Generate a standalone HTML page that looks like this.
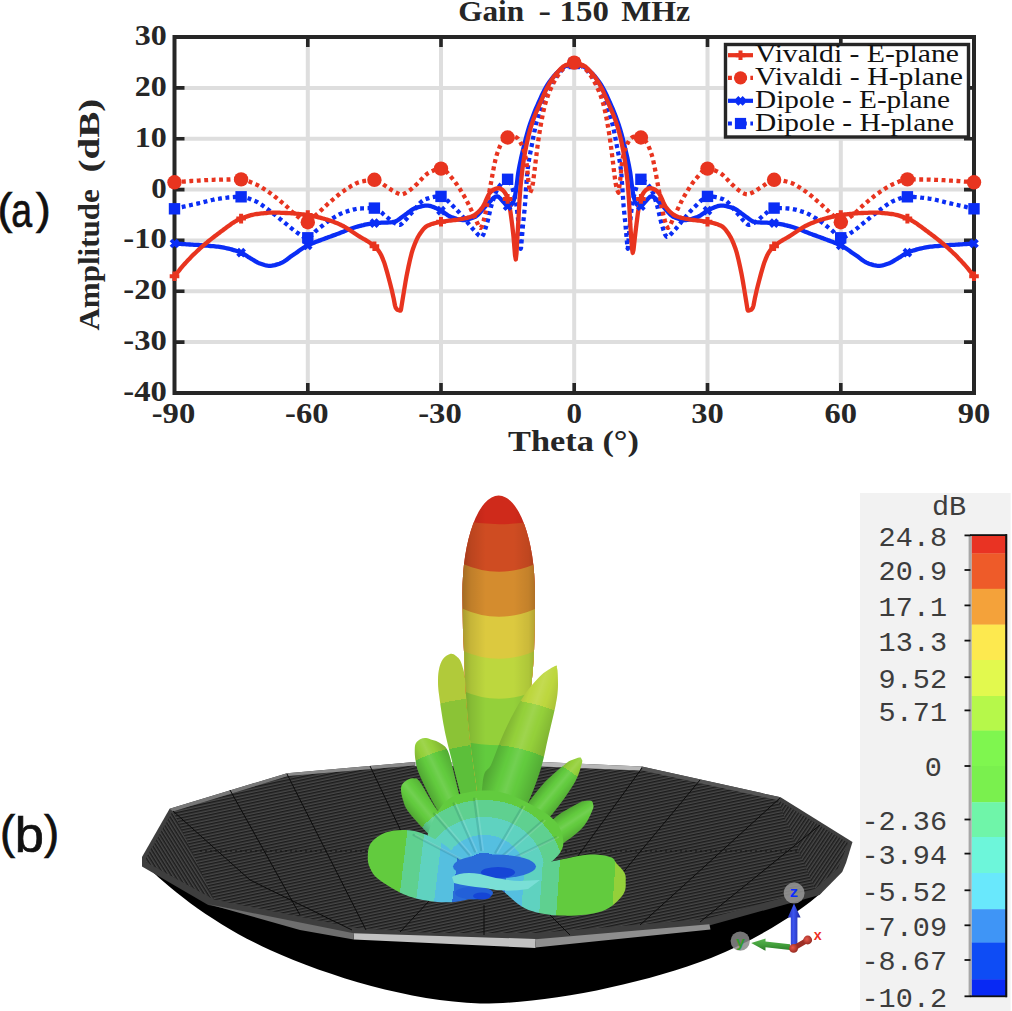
<!DOCTYPE html>
<html><head><meta charset="utf-8"><title>Gain - 150 MHz</title>
<style>
html,body{margin:0;padding:0;background:#fff;}
svg{display:block}
text{font-family:"Liberation Serif",serif;fill:#262626}
.b{font-weight:bold;font-size:29.4px}
.lg{font-size:24.5px;fill:#111}
.ss{font-family:"Liberation Sans",sans-serif;fill:#111}
.mono{font-family:"Liberation Mono",monospace;font-size:28.5px;fill:#3d3d3d}
</style></head><body>
<svg width="1012" height="1011" viewBox="0 0 1012 1011">
<rect width="1012" height="1011" fill="#fff"/>

<g id="chart">
<line x1="307.8" y1="37.0" x2="307.8" y2="393.0" stroke="#dedede" stroke-width="4.0"/>
<line x1="441.0" y1="37.0" x2="441.0" y2="393.0" stroke="#dedede" stroke-width="4.0"/>
<line x1="574.2" y1="37.0" x2="574.2" y2="393.0" stroke="#dedede" stroke-width="4.0"/>
<line x1="707.5" y1="37.0" x2="707.5" y2="393.0" stroke="#dedede" stroke-width="4.0"/>
<line x1="840.8" y1="37.0" x2="840.8" y2="393.0" stroke="#dedede" stroke-width="4.0"/>
<line x1="174.5" y1="87.9" x2="974.0" y2="87.9" stroke="#dedede" stroke-width="4.0"/>
<line x1="174.5" y1="138.7" x2="974.0" y2="138.7" stroke="#dedede" stroke-width="4.0"/>
<line x1="174.5" y1="189.6" x2="974.0" y2="189.6" stroke="#dedede" stroke-width="4.0"/>
<line x1="174.5" y1="240.4" x2="974.0" y2="240.4" stroke="#dedede" stroke-width="4.0"/>
<line x1="174.5" y1="291.3" x2="974.0" y2="291.3" stroke="#dedede" stroke-width="4.0"/>
<line x1="174.5" y1="342.1" x2="974.0" y2="342.1" stroke="#dedede" stroke-width="4.0"/>
<path d="M307.8 37.0v10M307.8 393.0v-10" stroke="#262626" stroke-width="3.6"/>
<path d="M441.0 37.0v10M441.0 393.0v-10" stroke="#262626" stroke-width="3.6"/>
<path d="M574.2 37.0v10M574.2 393.0v-10" stroke="#262626" stroke-width="3.6"/>
<path d="M707.5 37.0v10M707.5 393.0v-10" stroke="#262626" stroke-width="3.6"/>
<path d="M840.8 37.0v10M840.8 393.0v-10" stroke="#262626" stroke-width="3.6"/>
<path d="M174.5 87.9h10M974.0 87.9h-10" stroke="#262626" stroke-width="3.6"/>
<path d="M174.5 138.7h10M974.0 138.7h-10" stroke="#262626" stroke-width="3.6"/>
<path d="M174.5 189.6h10M974.0 189.6h-10" stroke="#262626" stroke-width="3.6"/>
<path d="M174.5 240.4h10M974.0 240.4h-10" stroke="#262626" stroke-width="3.6"/>
<path d="M174.5 291.3h10M974.0 291.3h-10" stroke="#262626" stroke-width="3.6"/>
<path d="M174.5 342.1h10M974.0 342.1h-10" stroke="#262626" stroke-width="3.6"/>
<rect x="174.5" y="37.0" width="799.5" height="356.0" fill="none" stroke="#262626" stroke-width="4"/>
<path d="M174.5 243.5 L176.0 243.6 L177.5 243.7 L179.0 243.8 L180.5 243.9 L182.0 244.0 L183.5 244.1 L185.0 244.2 L186.5 244.3 L188.0 244.4 L189.5 244.5 L190.0 244.5 L191.0 244.6 L192.5 244.7 L194.0 244.8 L195.5 244.8 L197.0 244.9 L198.5 245.0 L200.0 245.1 L201.5 245.2 L203.0 245.3 L204.5 245.5 L205.0 245.5 L206.0 245.6 L207.5 245.7 L209.0 245.8 L210.5 246.0 L212.0 246.1 L213.5 246.2 L215.0 246.4 L216.5 246.6 L218.0 246.7 L219.5 246.9 L220.0 247.0 L221.0 247.1 L222.5 247.4 L224.0 247.7 L225.5 248.0 L227.0 248.3 L228.5 248.6 L230.0 249.0 L231.5 249.4 L233.0 249.9 L234.5 250.3 L236.0 250.8 L237.5 251.3 L239.0 251.8 L240.5 252.4 L242.0 253.1 L243.5 253.9 L245.0 254.8 L246.5 255.8 L248.0 256.8 L249.5 257.7 L250.0 258.0 L251.0 258.6 L252.5 259.5 L254.0 260.4 L255.5 261.3 L257.0 262.2 L258.5 262.9 L260.0 263.5 L261.5 264.0 L263.0 264.5 L264.5 265.0 L266.0 265.4 L267.5 265.7 L269.0 265.9 L269.6 265.9 L270.5 265.9 L272.0 265.7 L273.5 265.4 L275.0 265.1 L276.5 264.6 L278.0 264.2 L279.5 263.7 L280.0 263.5 L281.0 263.1 L282.5 262.4 L284.0 261.5 L285.5 260.5 L287.0 259.4 L288.5 258.3 L290.0 257.1 L291.5 256.0 L293.0 255.0 L294.5 254.0 L296.0 253.0 L297.5 251.9 L299.0 250.8 L300.5 249.8 L302.0 248.8 L303.5 247.8 L305.0 246.9 L306.5 246.1 L307.0 245.8 L308.0 245.3 L309.5 244.6 L311.0 243.9 L312.5 243.3 L314.0 242.7 L315.5 242.1 L317.0 241.5 L318.5 240.9 L320.0 240.4 L321.5 239.8 L323.0 239.3 L324.5 238.7 L325.0 238.5 L326.0 238.1 L327.5 237.6 L329.0 237.0 L330.5 236.5 L332.0 235.9 L333.5 235.4 L335.0 234.9 L336.5 234.3 L338.0 233.8 L339.5 233.2 L340.0 233.0 L341.0 232.6 L342.5 232.0 L344.0 231.4 L345.5 230.7 L347.0 230.1 L348.5 229.5 L350.0 229.0 L351.5 228.5 L353.0 228.0 L354.5 227.5 L356.0 227.0 L357.5 226.6 L359.0 226.2 L360.0 225.9 L360.5 225.8 L362.0 225.4 L363.5 225.1 L365.0 224.7 L366.5 224.4 L368.0 224.1 L369.5 223.8 L371.0 223.5 L372.5 223.3 L373.8 223.2 L374.0 223.2 L375.5 223.1 L377.0 223.0 L378.5 222.9 L380.0 222.8 L381.5 222.7 L383.0 222.7 L384.5 222.6 L386.0 222.6 L387.5 222.5 L389.0 222.4 L390.5 222.3 L392.0 222.2 L393.5 222.0 L393.6 222.0 L395.0 221.7 L396.5 221.0 L398.0 220.0 L399.5 218.9 L401.0 217.8 L402.5 216.7 L403.5 216.0 L404.0 215.7 L405.5 214.6 L407.0 213.5 L408.5 212.3 L410.0 211.2 L411.5 210.1 L413.0 209.2 L414.5 208.4 L415.4 208.1 L416.0 207.9 L417.5 207.4 L419.0 207.0 L420.5 206.6 L422.0 206.2 L423.5 205.9 L425.0 205.7 L426.5 205.6 L427.2 205.6 L428.0 205.6 L429.5 205.8 L431.0 206.2 L432.5 206.7 L434.0 207.3 L435.5 207.9 L437.0 208.6 L438.5 209.4 L440.0 210.1 L440.1 210.1 L441.5 210.8 L443.0 211.8 L444.5 212.9 L446.0 214.0 L447.5 215.1 L449.0 216.0 L450.5 216.8 L451.0 217.0 L452.0 217.4 L453.5 217.9 L455.0 218.4 L456.5 218.9 L458.0 219.3 L459.5 219.7 L461.0 219.9 L462.5 220.0 L462.8 220.0 L464.0 220.0 L465.5 219.8 L467.0 219.5 L468.5 219.2 L470.0 218.7 L471.5 218.2 L473.0 217.7 L474.5 217.1 L474.7 217.0 L476.0 216.3 L477.5 215.1 L479.0 213.7 L480.5 212.0 L482.0 210.3 L483.5 208.5 L485.0 206.8 L486.5 205.3 L486.6 205.2 L488.0 203.8 L489.5 202.2 L491.0 200.5 L492.5 198.9 L494.0 197.6 L495.5 196.7 L497.0 196.3 L497.1 196.3 L498.5 196.8 L500.0 198.2 L501.5 199.9 L503.0 201.5 L504.5 203.1 L506.0 204.8 L507.5 206.1 L508.7 206.5 L509.0 206.5 L510.5 205.6 L512.0 204.0 L513.5 201.1 L515.0 196.3 L516.5 186.7 L518.0 174.6 L518.5 171.3 L519.5 165.9 L521.0 158.6 L522.5 152.1 L523.0 150.0 L524.0 145.8 L525.5 139.8 L527.0 134.1 L528.5 128.9 L529.2 126.7 L530.0 124.3 L531.5 119.9 L533.0 115.9 L534.5 112.1 L536.0 108.4 L537.5 105.0 L538.1 103.6 L539.0 101.6 L540.5 98.3 L542.0 95.0 L543.5 91.9 L545.0 89.0 L546.5 86.4 L548.0 84.0 L549.5 81.8 L551.0 79.8 L552.5 77.8 L554.0 76.0 L555.5 74.3 L557.0 72.7 L558.5 71.3 L560.0 70.0 L561.5 68.8 L563.0 67.7 L564.5 66.7 L566.0 65.9 L567.0 65.5 L567.5 65.3 L569.0 64.7 L570.5 64.2 L572.0 63.8 L573.5 63.5 L574.2 63.5 L575.0 63.5 L576.5 63.8 L578.0 64.2 L579.5 64.7 L581.0 65.3 L581.5 65.5 L582.5 65.9 L584.0 66.7 L585.5 67.7 L587.0 68.8 L588.5 70.0 L590.0 71.3 L591.5 72.7 L593.0 74.3 L594.5 76.0 L596.0 77.8 L597.5 79.8 L599.0 81.8 L600.5 84.0 L602.0 86.4 L603.5 89.0 L605.0 91.9 L606.5 95.0 L608.0 98.3 L609.5 101.6 L610.4 103.6 L611.0 105.0 L612.5 108.4 L614.0 112.1 L615.5 115.9 L617.0 119.9 L618.5 124.3 L619.3 126.7 L620.0 128.9 L621.5 134.1 L623.0 139.8 L624.5 145.8 L625.5 150.0 L626.0 152.1 L627.5 158.6 L629.0 165.9 L630.0 171.3 L630.5 174.6 L632.0 186.7 L633.5 196.3 L635.0 201.1 L636.5 204.0 L638.0 205.6 L639.5 206.5 L639.8 206.5 L641.0 206.1 L642.5 204.8 L644.0 203.1 L645.5 201.5 L647.0 199.9 L648.5 198.2 L650.0 196.8 L651.4 196.3 L651.5 196.3 L653.0 196.7 L654.5 197.6 L656.0 198.9 L657.5 200.5 L659.0 202.2 L660.5 203.8 L661.9 205.2 L662.0 205.3 L663.5 206.8 L665.0 208.5 L666.5 210.3 L668.0 212.0 L669.5 213.7 L671.0 215.1 L672.5 216.3 L673.8 217.0 L674.0 217.1 L675.5 217.7 L677.0 218.2 L678.5 218.7 L680.0 219.2 L681.5 219.5 L683.0 219.8 L684.5 220.0 L685.7 220.0 L686.0 220.0 L687.5 219.9 L689.0 219.7 L690.5 219.3 L692.0 218.9 L693.5 218.4 L695.0 217.9 L696.5 217.4 L697.5 217.0 L698.0 216.8 L699.5 216.0 L701.0 215.1 L702.5 214.0 L704.0 212.9 L705.5 211.8 L707.0 210.8 L708.4 210.1 L708.5 210.1 L710.0 209.4 L711.5 208.6 L713.0 207.9 L714.5 207.3 L716.0 206.7 L717.5 206.2 L719.0 205.8 L720.5 205.6 L721.3 205.6 L722.0 205.6 L723.5 205.7 L725.0 205.9 L726.5 206.2 L728.0 206.6 L729.5 207.0 L731.0 207.4 L732.5 207.9 L733.1 208.1 L734.0 208.4 L735.5 209.2 L737.0 210.1 L738.5 211.2 L740.0 212.3 L741.5 213.5 L743.0 214.6 L744.5 215.7 L745.0 216.0 L746.0 216.7 L747.5 217.8 L749.0 218.9 L750.5 220.0 L752.0 221.0 L753.5 221.7 L754.9 222.0 L755.0 222.0 L756.5 222.2 L758.0 222.3 L759.5 222.4 L761.0 222.5 L762.5 222.6 L764.0 222.6 L765.5 222.7 L767.0 222.7 L768.5 222.8 L770.0 222.9 L771.5 223.0 L773.0 223.1 L774.5 223.2 L774.7 223.2 L776.0 223.3 L777.5 223.5 L779.0 223.8 L780.5 224.1 L782.0 224.4 L783.5 224.7 L785.0 225.1 L786.5 225.4 L788.0 225.8 L788.5 225.9 L789.5 226.2 L791.0 226.6 L792.5 227.0 L794.0 227.5 L795.5 228.0 L797.0 228.5 L798.5 229.0 L800.0 229.5 L801.5 230.1 L803.0 230.7 L804.5 231.4 L806.0 232.0 L807.5 232.6 L808.5 233.0 L809.0 233.2 L810.5 233.8 L812.0 234.3 L813.5 234.9 L815.0 235.4 L816.5 235.9 L818.0 236.5 L819.5 237.0 L821.0 237.6 L822.5 238.1 L823.5 238.5 L824.0 238.7 L825.5 239.3 L827.0 239.8 L828.5 240.4 L830.0 240.9 L831.5 241.5 L833.0 242.1 L834.5 242.7 L836.0 243.3 L837.5 243.9 L839.0 244.6 L840.5 245.3 L841.5 245.8 L842.0 246.1 L843.5 246.9 L845.0 247.8 L846.5 248.8 L848.0 249.8 L849.5 250.8 L851.0 251.9 L852.5 253.0 L854.0 254.0 L855.5 255.0 L857.0 256.0 L858.5 257.1 L860.0 258.3 L861.5 259.4 L863.0 260.5 L864.5 261.5 L866.0 262.4 L867.5 263.1 L868.5 263.5 L869.0 263.7 L870.5 264.2 L872.0 264.6 L873.5 265.1 L875.0 265.4 L876.5 265.7 L878.0 265.9 L878.9 265.9 L879.5 265.9 L881.0 265.7 L882.5 265.4 L884.0 265.0 L885.5 264.5 L887.0 264.0 L888.5 263.5 L890.0 262.9 L891.5 262.2 L893.0 261.3 L894.5 260.4 L896.0 259.5 L897.5 258.6 L898.5 258.0 L899.0 257.7 L900.5 256.8 L902.0 255.8 L903.5 254.8 L905.0 253.9 L906.5 253.1 L908.0 252.4 L909.5 251.8 L911.0 251.3 L912.5 250.8 L914.0 250.3 L915.5 249.9 L917.0 249.4 L918.5 249.0 L920.0 248.6 L921.5 248.3 L923.0 248.0 L924.5 247.7 L926.0 247.4 L927.5 247.1 L928.5 247.0 L929.0 246.9 L930.5 246.7 L932.0 246.6 L933.5 246.4 L935.0 246.2 L936.5 246.1 L938.0 246.0 L939.5 245.8 L941.0 245.7 L942.5 245.6 L943.5 245.5 L944.0 245.5 L945.5 245.3 L947.0 245.2 L948.5 245.1 L950.0 245.0 L951.5 244.9 L953.0 244.8 L954.5 244.8 L956.0 244.7 L957.5 244.6 L958.5 244.5 L959.0 244.5 L960.5 244.4 L962.0 244.3 L963.5 244.2 L965.0 244.1 L966.5 244.0 L968.0 243.9 L969.5 243.8 L971.0 243.7 L972.5 243.6 L974.0 243.5" fill="none" stroke="#0a2df5" stroke-width="4.3" stroke-linejoin="round"/>
<path d="M174.5 208.8 L176.0 208.5 L177.5 208.1 L179.0 207.8 L180.5 207.4 L182.0 207.1 L183.5 206.7 L185.0 206.4 L186.5 206.1 L188.0 205.7 L189.5 205.4 L191.0 205.0 L192.5 204.7 L194.0 204.4 L195.5 204.0 L197.0 203.7 L198.5 203.3 L200.0 203.0 L201.5 202.7 L203.0 202.3 L204.5 201.9 L206.0 201.5 L207.5 201.1 L209.0 200.7 L210.5 200.4 L212.0 200.0 L213.5 199.7 L215.0 199.3 L216.5 199.0 L218.0 198.8 L219.5 198.6 L220.0 198.5 L221.0 198.4 L222.5 198.2 L224.0 198.0 L225.5 197.8 L227.0 197.7 L228.5 197.5 L230.0 197.4 L231.5 197.2 L233.0 197.1 L234.5 197.0 L236.0 196.9 L237.5 196.9 L239.0 196.8 L240.5 196.8 L242.0 196.9 L243.5 197.1 L245.0 197.4 L246.5 197.8 L248.0 198.3 L249.5 198.8 L251.0 199.4 L252.5 200.0 L254.0 200.6 L255.0 201.0 L255.5 201.2 L257.0 201.9 L258.5 202.8 L260.0 203.7 L261.5 204.7 L263.0 205.8 L264.5 206.9 L266.0 208.0 L267.5 209.1 L269.0 210.3 L270.0 211.0 L270.5 211.4 L272.0 212.5 L273.5 213.7 L275.0 214.8 L276.5 216.1 L278.0 217.3 L279.5 218.5 L281.0 219.8 L282.5 221.0 L284.0 222.2 L285.0 223.0 L285.5 223.4 L287.0 224.6 L288.5 225.9 L290.0 227.2 L291.5 228.4 L293.0 229.6 L294.5 230.8 L296.0 231.8 L297.0 232.5 L297.5 232.8 L299.0 233.9 L300.5 235.0 L302.0 236.0 L303.5 236.9 L305.0 237.5 L306.5 237.9 L307.0 237.9 L308.0 237.7 L309.5 237.0 L311.0 235.9 L312.5 234.4 L314.0 232.9 L315.5 231.3 L317.0 230.0 L318.5 228.8 L320.0 227.6 L321.5 226.4 L323.0 225.2 L324.5 224.0 L326.0 222.8 L327.5 221.7 L329.0 220.7 L330.0 220.0 L330.5 219.7 L332.0 218.7 L333.5 217.8 L335.0 216.9 L336.5 216.0 L338.0 215.1 L339.5 214.3 L341.0 213.6 L342.5 212.9 L344.0 212.3 L345.0 212.0 L345.5 211.8 L347.0 211.4 L348.5 210.9 L350.0 210.4 L351.5 210.0 L353.0 209.6 L354.5 209.3 L356.0 209.0 L357.5 208.7 L359.0 208.6 L360.0 208.5 L360.5 208.5 L362.0 208.4 L363.5 208.3 L365.0 208.3 L366.5 208.2 L368.0 208.2 L369.5 208.1 L371.0 208.1 L372.5 208.1 L373.8 208.1 L374.0 208.1 L375.5 208.4 L377.0 209.0 L378.5 210.0 L380.0 211.2 L381.5 212.4 L383.0 213.8 L384.5 215.1 L385.7 216.0 L386.0 216.2 L387.5 217.5 L389.0 218.8 L390.5 220.2 L392.0 221.4 L393.0 222.0 L393.5 222.3 L395.0 223.2 L396.5 224.0 L398.0 224.6 L399.5 224.9 L399.6 224.9 L401.0 224.4 L402.5 223.1 L404.0 221.5 L405.0 220.5 L405.5 220.0 L407.0 218.3 L408.5 216.5 L410.0 214.7 L411.4 213.1 L411.5 213.0 L413.0 211.3 L414.5 209.5 L416.0 207.6 L417.5 205.8 L419.0 204.1 L420.5 202.5 L422.0 201.2 L423.5 200.1 L425.0 199.3 L425.3 199.2 L426.5 198.8 L428.0 198.4 L429.5 197.9 L431.0 197.5 L432.5 197.2 L434.0 196.9 L435.5 196.6 L437.0 196.5 L438.5 196.3 L440.0 196.3 L440.1 196.3 L441.5 196.5 L443.0 197.1 L444.5 198.1 L446.0 199.3 L447.5 200.6 L449.0 202.1 L450.5 203.7 L452.0 205.2 L453.0 206.1 L453.5 206.6 L455.0 208.0 L456.5 209.6 L458.0 211.2 L459.5 212.9 L461.0 214.6 L462.5 216.3 L464.0 218.1 L464.8 219.0 L465.5 219.8 L467.0 221.7 L468.5 223.6 L470.0 225.5 L471.5 227.3 L473.0 229.1 L474.5 230.7 L474.7 230.9 L476.0 232.3 L477.5 234.0 L479.0 235.5 L480.5 236.5 L481.6 236.8 L482.0 236.7 L483.5 234.3 L485.0 230.0 L486.5 225.2 L486.6 224.9 L488.0 219.8 L489.5 213.2 L491.0 206.9 L491.5 205.2 L492.5 202.0 L494.0 197.4 L495.5 193.2 L497.0 189.8 L498.4 187.4 L498.5 187.3 L500.0 185.3 L501.5 183.5 L503.0 181.9 L504.5 180.6 L506.0 179.7 L507.5 179.3 L507.8 179.3 L509.0 180.2 L510.5 183.2 L512.0 187.0 L513.5 191.6 L515.0 197.8 L516.5 205.8 L516.7 207.0 L518.0 218.3 L519.4 233.7 L519.5 234.9 L520.7 248.8 L521.0 248.0 L522.5 230.8 L523.0 224.8 L524.0 215.2 L524.8 207.0 L525.5 197.6 L527.0 175.4 L527.4 171.3 L528.5 163.0 L530.0 154.3 L531.5 146.7 L531.9 144.6 L533.0 138.7 L534.5 131.1 L536.0 124.4 L536.3 123.2 L537.5 118.8 L539.0 113.9 L540.5 109.4 L542.0 105.2 L542.6 103.6 L543.5 101.2 L545.0 97.2 L546.5 93.5 L548.0 90.0 L549.5 86.9 L550.0 86.0 L551.0 84.3 L552.5 81.8 L554.0 79.5 L555.5 77.4 L557.0 75.4 L558.5 73.6 L560.0 72.0 L561.5 70.4 L563.0 69.0 L564.5 67.7 L566.0 66.6 L567.0 66.0 L567.5 65.8 L569.0 65.0 L570.5 64.4 L572.0 63.8 L573.5 63.5 L574.2 63.5 L575.0 63.5 L576.5 63.8 L578.0 64.4 L579.5 65.0 L581.0 65.8 L581.5 66.0 L582.5 66.6 L584.0 67.7 L585.5 69.0 L587.0 70.4 L588.5 72.0 L590.0 73.6 L591.5 75.4 L593.0 77.4 L594.5 79.5 L596.0 81.8 L597.5 84.3 L598.5 86.0 L599.0 86.9 L600.5 90.0 L602.0 93.5 L603.5 97.2 L605.0 101.2 L605.9 103.6 L606.5 105.2 L608.0 109.4 L609.5 113.9 L611.0 118.8 L612.2 123.2 L612.5 124.4 L614.0 131.1 L615.5 138.7 L616.6 144.6 L617.0 146.7 L618.5 154.3 L620.0 163.0 L621.1 171.3 L621.5 175.4 L623.0 197.6 L623.7 207.0 L624.5 215.2 L625.5 224.8 L626.0 230.8 L627.5 248.0 L627.8 248.8 L629.0 234.9 L629.1 233.7 L630.5 218.3 L631.8 207.0 L632.0 205.8 L633.5 197.8 L635.0 191.6 L636.5 187.0 L638.0 183.2 L639.5 180.2 L640.7 179.3 L641.0 179.3 L642.5 179.7 L644.0 180.6 L645.5 181.9 L647.0 183.5 L648.5 185.3 L650.0 187.3 L650.1 187.4 L651.5 189.8 L653.0 193.2 L654.5 197.4 L656.0 202.0 L657.0 205.2 L657.5 206.9 L659.0 213.2 L660.5 219.8 L661.9 224.9 L662.0 225.2 L663.5 230.0 L665.0 234.3 L666.5 236.7 L666.9 236.8 L668.0 236.5 L669.5 235.5 L671.0 234.0 L672.5 232.3 L673.8 230.9 L674.0 230.7 L675.5 229.1 L677.0 227.3 L678.5 225.5 L680.0 223.6 L681.5 221.7 L683.0 219.8 L683.7 219.0 L684.5 218.1 L686.0 216.3 L687.5 214.6 L689.0 212.9 L690.5 211.2 L692.0 209.6 L693.5 208.0 L695.0 206.6 L695.5 206.1 L696.5 205.2 L698.0 203.7 L699.5 202.1 L701.0 200.6 L702.5 199.3 L704.0 198.1 L705.5 197.1 L707.0 196.5 L708.4 196.3 L708.5 196.3 L710.0 196.3 L711.5 196.5 L713.0 196.6 L714.5 196.9 L716.0 197.2 L717.5 197.5 L719.0 197.9 L720.5 198.4 L722.0 198.8 L723.2 199.2 L723.5 199.3 L725.0 200.1 L726.5 201.2 L728.0 202.5 L729.5 204.1 L731.0 205.8 L732.5 207.6 L734.0 209.5 L735.5 211.3 L737.0 213.0 L737.1 213.1 L738.5 214.7 L740.0 216.5 L741.5 218.3 L743.0 220.0 L743.5 220.5 L744.5 221.5 L746.0 223.1 L747.5 224.4 L748.9 224.9 L749.0 224.9 L750.5 224.6 L752.0 224.0 L753.5 223.2 L755.0 222.3 L755.5 222.0 L756.5 221.4 L758.0 220.2 L759.5 218.8 L761.0 217.5 L762.5 216.2 L762.8 216.0 L764.0 215.1 L765.5 213.8 L767.0 212.4 L768.5 211.2 L770.0 210.0 L771.5 209.0 L773.0 208.4 L774.5 208.1 L774.7 208.1 L776.0 208.1 L777.5 208.1 L779.0 208.1 L780.5 208.2 L782.0 208.2 L783.5 208.3 L785.0 208.3 L786.5 208.4 L788.0 208.5 L788.5 208.5 L789.5 208.6 L791.0 208.7 L792.5 209.0 L794.0 209.3 L795.5 209.6 L797.0 210.0 L798.5 210.4 L800.0 210.9 L801.5 211.4 L803.0 211.8 L803.5 212.0 L804.5 212.3 L806.0 212.9 L807.5 213.6 L809.0 214.3 L810.5 215.1 L812.0 216.0 L813.5 216.9 L815.0 217.8 L816.5 218.7 L818.0 219.7 L818.5 220.0 L819.5 220.7 L821.0 221.7 L822.5 222.8 L824.0 224.0 L825.5 225.2 L827.0 226.4 L828.5 227.6 L830.0 228.8 L831.5 230.0 L833.0 231.3 L834.5 232.9 L836.0 234.4 L837.5 235.9 L839.0 237.0 L840.5 237.7 L841.5 237.9 L842.0 237.9 L843.5 237.5 L845.0 236.9 L846.5 236.0 L848.0 235.0 L849.5 233.9 L851.0 232.8 L851.5 232.5 L852.5 231.8 L854.0 230.8 L855.5 229.6 L857.0 228.4 L858.5 227.2 L860.0 225.9 L861.5 224.6 L863.0 223.4 L863.5 223.0 L864.5 222.2 L866.0 221.0 L867.5 219.8 L869.0 218.5 L870.5 217.3 L872.0 216.1 L873.5 214.8 L875.0 213.7 L876.5 212.5 L878.0 211.4 L878.5 211.0 L879.5 210.3 L881.0 209.1 L882.5 208.0 L884.0 206.9 L885.5 205.8 L887.0 204.7 L888.5 203.7 L890.0 202.8 L891.5 201.9 L893.0 201.2 L893.5 201.0 L894.5 200.6 L896.0 200.0 L897.5 199.4 L899.0 198.8 L900.5 198.3 L902.0 197.8 L903.5 197.4 L905.0 197.1 L906.5 196.9 L908.0 196.8 L909.5 196.8 L911.0 196.9 L912.5 196.9 L914.0 197.0 L915.5 197.1 L917.0 197.2 L918.5 197.4 L920.0 197.5 L921.5 197.7 L923.0 197.8 L924.5 198.0 L926.0 198.2 L927.5 198.4 L928.5 198.5 L929.0 198.6 L930.5 198.8 L932.0 199.0 L933.5 199.3 L935.0 199.7 L936.5 200.0 L938.0 200.4 L939.5 200.7 L941.0 201.1 L942.5 201.5 L944.0 201.9 L945.5 202.3 L947.0 202.7 L948.5 203.0 L950.0 203.3 L951.5 203.7 L953.0 204.0 L954.5 204.4 L956.0 204.7 L957.5 205.0 L959.0 205.4 L960.5 205.7 L962.0 206.1 L963.5 206.4 L965.0 206.7 L966.5 207.1 L968.0 207.4 L969.5 207.8 L971.0 208.1 L972.5 208.5 L974.0 208.8" fill="none" stroke="#0a2df5" stroke-width="4.3" stroke-linejoin="round" stroke-dasharray="3.9 3.55"/>
<path d="M174.5 276.3 L176.0 274.4 L177.5 272.4 L179.0 270.6 L180.5 268.7 L182.0 266.9 L183.5 265.2 L185.0 263.5 L186.5 261.9 L188.0 260.2 L189.5 258.7 L191.0 257.1 L192.5 255.6 L194.0 254.1 L195.5 252.7 L197.0 251.3 L198.5 249.9 L200.0 248.5 L201.5 247.2 L203.0 245.8 L204.5 244.5 L206.0 243.3 L207.5 242.0 L209.0 240.8 L210.5 239.6 L212.0 238.4 L213.5 237.2 L215.0 236.0 L216.5 234.9 L218.0 233.8 L219.5 232.7 L220.0 232.3 L221.0 231.6 L222.5 230.5 L224.0 229.3 L225.5 228.2 L227.0 227.1 L228.5 226.0 L230.0 224.9 L231.5 223.8 L233.0 222.8 L234.5 221.9 L236.0 221.0 L237.5 220.2 L239.0 219.4 L240.5 218.8 L242.0 218.2 L243.5 217.6 L245.0 217.1 L246.5 216.6 L248.0 216.1 L249.5 215.6 L251.0 215.2 L252.5 214.8 L254.0 214.5 L255.5 214.2 L257.0 214.0 L258.5 213.8 L260.0 213.6 L261.5 213.4 L263.0 213.3 L264.5 213.1 L266.0 213.0 L267.5 212.8 L269.0 212.7 L270.5 212.7 L272.0 212.6 L273.5 212.6 L273.7 212.6 L275.0 212.6 L276.5 212.6 L278.0 212.7 L279.5 212.7 L281.0 212.8 L282.5 212.8 L284.0 212.9 L285.5 213.0 L287.0 213.0 L288.5 213.1 L290.0 213.2 L291.5 213.3 L293.0 213.4 L294.5 213.5 L296.0 213.7 L297.5 213.8 L299.0 214.0 L300.5 214.1 L302.0 214.3 L303.5 214.5 L305.0 214.7 L306.5 214.9 L307.0 215.0 L308.0 215.1 L309.5 215.4 L311.0 215.7 L312.5 215.9 L314.0 216.3 L315.5 216.6 L317.0 216.9 L318.5 217.3 L320.0 217.7 L321.5 218.1 L323.0 218.5 L324.5 218.9 L325.0 219.0 L326.0 219.3 L327.5 219.7 L329.0 220.2 L330.5 220.7 L332.0 221.2 L333.5 221.8 L335.0 222.4 L336.5 223.0 L338.0 223.6 L339.5 224.3 L340.0 224.5 L341.0 225.0 L342.5 225.7 L344.0 226.5 L345.5 227.4 L347.0 228.3 L348.5 229.2 L350.0 230.2 L351.5 231.2 L353.0 232.2 L354.5 233.2 L356.0 234.2 L357.5 235.2 L359.0 236.2 L360.0 236.8 L360.5 237.1 L362.0 238.0 L363.5 238.9 L365.0 239.7 L366.5 240.6 L368.0 241.5 L369.5 242.5 L371.0 243.5 L372.5 244.6 L373.8 245.7 L374.0 245.9 L375.5 247.3 L377.0 248.9 L378.5 250.7 L379.8 252.6 L380.0 252.9 L381.5 255.8 L383.0 259.4 L384.0 262.0 L384.5 263.4 L386.0 268.3 L387.5 273.7 L387.7 274.4 L389.0 279.2 L390.5 285.0 L391.0 287.0 L392.0 291.1 L393.5 297.7 L393.6 298.1 L395.0 305.5 L395.6 307.5 L396.5 308.9 L397.5 309.8 L398.0 310.0 L399.5 310.5 L400.5 310.6 L401.0 309.5 L402.5 300.1 L404.0 291.0 L404.5 288.0 L405.5 282.0 L406.5 276.4 L407.0 273.8 L408.5 266.5 L409.5 262.0 L410.0 259.8 L411.5 253.7 L412.4 250.6 L413.0 248.8 L414.5 244.7 L416.0 241.1 L417.5 237.9 L419.0 235.3 L419.3 234.8 L420.5 233.0 L422.0 230.9 L423.5 229.0 L425.0 227.5 L426.5 226.3 L427.2 225.9 L428.0 225.5 L429.5 224.9 L431.0 224.3 L432.5 223.8 L434.0 223.4 L435.5 223.0 L437.0 222.6 L438.5 222.3 L440.0 222.0 L440.1 222.0 L441.5 221.7 L443.0 221.5 L444.5 221.3 L446.0 221.1 L447.5 220.9 L449.0 220.7 L450.5 220.6 L452.0 220.4 L453.5 220.2 L455.0 220.0 L456.5 219.8 L458.0 219.6 L458.9 219.4 L459.5 219.3 L461.0 219.0 L462.5 218.8 L464.0 218.5 L465.5 218.1 L467.0 217.8 L468.5 217.4 L470.0 217.0 L471.5 216.5 L472.7 216.0 L473.0 215.9 L474.5 215.1 L476.0 214.0 L477.5 212.7 L479.0 211.3 L480.5 209.6 L482.0 207.8 L482.6 207.1 L483.5 205.7 L485.0 202.7 L486.5 199.2 L488.0 195.9 L489.5 193.3 L490.0 192.7 L491.0 191.7 L492.5 190.4 L494.0 189.4 L495.0 189.0 L495.5 188.8 L497.0 188.4 L498.5 188.2 L498.9 188.2 L500.0 188.4 L501.5 189.3 L502.5 190.0 L503.0 190.4 L504.5 192.1 L506.0 194.5 L507.5 198.4 L509.0 204.3 L509.6 207.0 L510.5 212.1 L512.0 223.5 L513.2 233.7 L513.5 236.7 L515.0 255.1 L515.8 259.5 L516.5 253.4 L517.6 233.7 L518.0 227.2 L519.5 200.5 L520.3 189.1 L521.0 181.6 L522.5 168.4 L523.9 158.8 L524.0 158.2 L525.5 149.7 L527.0 142.3 L528.5 135.8 L530.0 130.1 L531.0 126.7 L531.5 125.1 L533.0 120.6 L534.5 116.5 L536.0 112.8 L537.5 109.3 L539.0 105.9 L540.5 102.5 L540.8 101.8 L542.0 99.0 L543.5 95.5 L545.0 92.1 L546.5 88.9 L548.0 86.0 L549.5 83.4 L551.0 80.9 L552.5 78.6 L554.0 76.5 L555.5 74.6 L556.0 74.0 L557.0 72.8 L558.5 71.1 L560.0 69.5 L561.5 68.0 L563.0 66.7 L564.5 65.8 L565.0 65.5 L566.0 65.0 L567.5 64.4 L569.0 63.7 L570.5 63.2 L572.0 62.8 L573.5 62.6 L574.2 62.6 L575.0 62.6 L576.5 62.8 L578.0 63.2 L579.5 63.7 L581.0 64.4 L582.5 65.0 L583.5 65.5 L584.0 65.8 L585.5 66.7 L587.0 68.0 L588.5 69.5 L590.0 71.1 L591.5 72.8 L592.5 74.0 L593.0 74.6 L594.5 76.5 L596.0 78.6 L597.5 80.9 L599.0 83.4 L600.5 86.0 L602.0 88.9 L603.5 92.1 L605.0 95.5 L606.5 99.0 L607.7 101.8 L608.0 102.5 L609.5 105.9 L611.0 109.3 L612.5 112.8 L614.0 116.5 L615.5 120.6 L617.0 125.1 L617.5 126.7 L618.5 130.1 L620.0 135.8 L621.5 142.3 L623.0 149.7 L624.5 158.2 L624.6 158.8 L626.0 168.4 L627.5 181.6 L628.2 189.1 L629.0 200.9 L630.5 227.9 L630.9 233.7 L632.0 248.6 L632.7 253.0 L633.5 249.9 L635.0 236.2 L635.3 233.7 L636.5 224.1 L638.0 212.3 L638.9 207.0 L639.5 204.3 L641.0 198.4 L642.5 194.5 L644.0 192.1 L645.5 190.4 L646.0 190.0 L647.0 189.3 L648.5 188.4 L649.6 188.2 L650.0 188.2 L651.5 188.4 L653.0 188.8 L653.5 189.0 L654.5 189.4 L656.0 190.4 L657.5 191.7 L658.5 192.7 L659.0 193.3 L660.5 195.9 L662.0 199.2 L663.5 202.7 L665.0 205.7 L665.9 207.1 L666.5 207.8 L668.0 209.6 L669.5 211.3 L671.0 212.7 L672.5 214.0 L674.0 215.1 L675.5 215.9 L675.8 216.0 L677.0 216.5 L678.5 217.0 L680.0 217.4 L681.5 217.8 L683.0 218.1 L684.5 218.5 L686.0 218.8 L687.5 219.0 L689.0 219.3 L689.6 219.4 L690.5 219.6 L692.0 219.8 L693.5 220.0 L695.0 220.2 L696.5 220.4 L698.0 220.6 L699.5 220.7 L701.0 220.9 L702.5 221.1 L704.0 221.3 L705.5 221.5 L707.0 221.7 L708.4 222.0 L708.5 222.0 L710.0 222.3 L711.5 222.6 L713.0 223.0 L714.5 223.4 L716.0 223.8 L717.5 224.3 L719.0 224.9 L720.5 225.5 L721.3 225.9 L722.0 226.3 L723.5 227.5 L725.0 229.0 L726.5 230.9 L728.0 233.0 L729.2 234.8 L729.5 235.3 L731.0 237.9 L732.5 241.1 L734.0 244.7 L735.5 248.8 L736.1 250.6 L737.0 253.7 L738.5 259.8 L739.0 262.0 L740.0 266.5 L741.5 273.8 L742.0 276.4 L743.0 282.0 L744.0 288.0 L744.5 291.0 L746.0 300.1 L747.5 309.5 L748.0 310.6 L749.0 310.5 L750.5 310.0 L751.0 309.8 L752.0 308.9 L752.9 307.5 L753.5 305.5 L754.9 298.1 L755.0 297.7 L756.5 291.1 L757.5 287.0 L758.0 285.0 L759.5 279.2 L760.8 274.4 L761.0 273.7 L762.5 268.3 L764.0 263.4 L764.5 262.0 L765.5 259.4 L767.0 255.8 L768.5 252.9 L768.7 252.6 L770.0 250.7 L771.5 248.9 L773.0 247.3 L774.5 245.9 L774.7 245.7 L776.0 244.6 L777.5 243.5 L779.0 242.5 L780.5 241.5 L782.0 240.6 L783.5 239.7 L785.0 238.9 L786.5 238.0 L788.0 237.1 L788.5 236.8 L789.5 236.2 L791.0 235.2 L792.5 234.2 L794.0 233.2 L795.5 232.2 L797.0 231.2 L798.5 230.2 L800.0 229.2 L801.5 228.3 L803.0 227.4 L804.5 226.5 L806.0 225.7 L807.5 225.0 L808.5 224.5 L809.0 224.3 L810.5 223.6 L812.0 223.0 L813.5 222.4 L815.0 221.8 L816.5 221.2 L818.0 220.7 L819.5 220.2 L821.0 219.7 L822.5 219.3 L823.5 219.0 L824.0 218.9 L825.5 218.5 L827.0 218.1 L828.5 217.7 L830.0 217.3 L831.5 216.9 L833.0 216.6 L834.5 216.3 L836.0 215.9 L837.5 215.7 L839.0 215.4 L840.5 215.1 L841.5 215.0 L842.0 214.9 L843.5 214.7 L845.0 214.5 L846.5 214.3 L848.0 214.1 L849.5 214.0 L851.0 213.8 L852.5 213.7 L854.0 213.5 L855.5 213.4 L857.0 213.3 L858.5 213.2 L860.0 213.1 L861.5 213.0 L863.0 213.0 L864.5 212.9 L866.0 212.8 L867.5 212.8 L869.0 212.7 L870.5 212.7 L872.0 212.6 L873.5 212.6 L874.8 212.6 L875.0 212.6 L876.5 212.6 L878.0 212.7 L879.5 212.7 L881.0 212.8 L882.5 213.0 L884.0 213.1 L885.5 213.3 L887.0 213.4 L888.5 213.6 L890.0 213.8 L891.5 214.0 L893.0 214.2 L894.5 214.5 L896.0 214.8 L897.5 215.2 L899.0 215.6 L900.5 216.1 L902.0 216.6 L903.5 217.1 L905.0 217.6 L906.5 218.2 L908.0 218.8 L909.5 219.4 L911.0 220.2 L912.5 221.0 L914.0 221.9 L915.5 222.8 L917.0 223.8 L918.5 224.9 L920.0 226.0 L921.5 227.1 L923.0 228.2 L924.5 229.3 L926.0 230.5 L927.5 231.6 L928.5 232.3 L929.0 232.7 L930.5 233.8 L932.0 234.9 L933.5 236.0 L935.0 237.2 L936.5 238.4 L938.0 239.6 L939.5 240.8 L941.0 242.0 L942.5 243.3 L944.0 244.5 L945.5 245.8 L947.0 247.2 L948.5 248.5 L950.0 249.9 L951.5 251.3 L953.0 252.7 L954.5 254.1 L956.0 255.6 L957.5 257.1 L959.0 258.7 L960.5 260.2 L962.0 261.9 L963.5 263.5 L965.0 265.2 L966.5 266.9 L968.0 268.7 L969.5 270.6 L971.0 272.4 L972.5 274.4 L974.0 276.3" fill="none" stroke="#e8341f" stroke-width="4.3" stroke-linejoin="round"/>
<path d="M174.5 182.3 L176.0 182.2 L177.5 182.0 L179.0 181.9 L180.5 181.8 L182.0 181.7 L183.5 181.6 L185.0 181.5 L186.5 181.4 L188.0 181.2 L189.5 181.1 L191.0 181.0 L192.5 180.9 L194.0 180.9 L195.5 180.8 L197.0 180.7 L198.5 180.6 L200.0 180.5 L201.5 180.4 L203.0 180.3 L204.5 180.2 L206.0 180.2 L207.5 180.1 L209.0 180.0 L210.5 179.9 L212.0 179.9 L213.5 179.8 L215.0 179.7 L216.5 179.7 L218.0 179.6 L219.5 179.6 L220.0 179.6 L221.0 179.6 L222.5 179.6 L224.0 179.5 L225.5 179.5 L227.0 179.5 L228.5 179.5 L230.0 179.5 L231.5 179.4 L233.0 179.4 L234.5 179.4 L236.0 179.4 L237.5 179.4 L239.0 179.4 L240.5 179.4 L242.0 179.5 L243.5 179.7 L245.0 180.1 L246.5 180.5 L248.0 181.0 L249.5 181.6 L251.0 182.3 L252.5 182.9 L254.0 183.6 L255.0 184.0 L255.5 184.2 L257.0 184.9 L258.5 185.7 L260.0 186.5 L261.5 187.4 L263.0 188.3 L264.5 189.3 L266.0 190.3 L267.5 191.3 L269.0 192.3 L270.0 193.0 L270.5 193.3 L272.0 194.4 L273.5 195.5 L275.0 196.7 L276.5 197.9 L278.0 199.1 L279.5 200.3 L281.0 201.6 L282.5 202.9 L284.0 204.1 L285.0 205.0 L285.5 205.4 L287.0 206.8 L288.5 208.2 L290.0 209.7 L291.5 211.2 L293.0 212.6 L294.5 214.0 L296.0 215.2 L297.0 216.0 L297.5 216.4 L299.0 217.6 L300.5 218.9 L302.0 220.1 L303.5 221.1 L305.0 221.9 L306.5 222.3 L307.0 222.3 L308.0 222.1 L309.5 221.4 L311.0 220.2 L312.5 218.7 L314.0 217.1 L315.5 215.4 L317.0 214.0 L318.5 212.7 L320.0 211.3 L321.5 209.9 L323.0 208.5 L324.5 207.0 L326.0 205.6 L327.5 204.2 L329.0 202.9 L330.0 202.0 L330.5 201.6 L332.0 200.3 L333.5 199.0 L335.0 197.7 L336.5 196.4 L338.0 195.2 L339.5 194.0 L341.0 192.8 L342.5 191.7 L344.0 190.7 L345.0 190.0 L345.5 189.7 L347.0 188.7 L348.5 187.7 L350.0 186.8 L351.5 185.8 L353.0 185.0 L354.5 184.2 L356.0 183.4 L357.5 182.8 L359.0 182.3 L360.0 182.0 L360.5 181.9 L362.0 181.5 L363.5 181.2 L365.0 180.8 L366.5 180.6 L368.0 180.3 L369.5 180.1 L371.0 179.9 L372.5 179.8 L373.8 179.8 L374.0 179.8 L375.5 180.0 L377.0 180.5 L378.5 181.2 L380.0 182.1 L381.5 183.1 L383.0 184.2 L384.5 185.3 L386.0 186.3 L387.5 187.3 L387.7 187.4 L389.0 188.2 L390.5 189.2 L392.0 190.3 L393.5 191.2 L395.0 192.0 L396.5 192.7 L398.0 193.4 L399.5 194.0 L401.0 194.3 L401.5 194.3 L402.5 194.2 L404.0 193.7 L405.5 193.0 L407.0 192.1 L408.0 191.5 L408.5 191.2 L410.0 190.1 L411.5 188.9 L413.0 187.6 L414.5 186.2 L415.4 185.4 L416.0 184.9 L417.5 183.4 L419.0 181.8 L420.5 180.2 L422.0 178.6 L423.5 177.0 L425.0 175.6 L426.5 174.3 L428.0 173.2 L429.2 172.5 L429.5 172.4 L431.0 171.6 L432.5 170.9 L434.0 170.3 L435.5 169.7 L437.0 169.2 L438.5 168.9 L440.0 168.6 L441.1 168.6 L441.5 168.6 L443.0 169.0 L444.5 170.0 L446.0 171.2 L447.5 172.8 L449.0 174.6 L450.5 176.4 L452.0 178.2 L453.0 179.4 L453.5 180.0 L455.0 181.8 L456.5 183.9 L458.0 186.1 L459.5 188.4 L461.0 190.8 L462.5 193.3 L464.0 195.8 L464.8 197.2 L465.5 198.4 L467.0 201.3 L468.5 204.3 L470.0 207.4 L471.5 210.5 L473.0 213.6 L474.5 216.6 L474.7 217.0 L476.0 219.9 L477.5 223.5 L479.0 226.5 L480.5 227.9 L480.6 227.9 L482.0 226.0 L483.5 221.1 L484.6 217.0 L485.0 215.5 L486.5 208.3 L488.0 199.7 L489.5 190.9 L490.5 185.4 L491.0 182.8 L492.5 174.5 L494.0 166.4 L495.5 159.4 L496.5 155.7 L497.0 154.1 L498.5 149.8 L500.0 146.1 L501.5 143.2 L502.4 141.9 L503.0 141.2 L504.5 139.6 L506.0 138.4 L507.5 137.5 L507.8 137.4 L509.0 136.9 L510.5 136.4 L512.0 136.2 L513.5 136.4 L515.0 136.8 L516.5 137.5 L516.7 137.6 L518.0 138.6 L519.5 140.7 L521.0 143.4 L522.5 146.8 L523.0 148.0 L524.0 150.9 L525.5 156.9 L526.5 162.4 L527.0 166.5 L528.3 180.2 L528.5 181.9 L530.0 192.6 L530.1 192.7 L531.5 189.6 L532.8 183.8 L533.0 182.8 L534.5 171.0 L535.5 162.4 L536.0 158.4 L537.5 146.4 L539.0 135.7 L540.5 126.6 L542.0 118.3 L543.5 110.9 L545.0 104.7 L545.3 103.6 L546.5 99.7 L548.0 95.3 L549.5 91.5 L551.0 88.1 L552.0 86.0 L552.5 85.0 L554.0 82.0 L555.5 79.3 L557.0 76.8 L558.5 74.5 L560.0 72.5 L561.5 70.7 L563.0 68.9 L564.5 67.4 L566.0 66.2 L567.0 65.5 L567.5 65.2 L569.0 64.4 L570.5 63.6 L572.0 63.0 L573.5 62.6 L574.2 62.6 L575.0 62.6 L576.5 63.0 L578.0 63.6 L579.5 64.4 L581.0 65.2 L581.5 65.5 L582.5 66.2 L584.0 67.4 L585.5 68.9 L587.0 70.7 L588.5 72.5 L590.0 74.5 L591.5 76.8 L593.0 79.3 L594.5 82.0 L596.0 85.0 L596.5 86.0 L597.5 88.1 L599.0 91.5 L600.5 95.3 L602.0 99.7 L603.2 103.6 L603.5 104.7 L605.0 110.9 L606.5 118.3 L608.0 126.6 L609.5 135.7 L611.0 146.4 L612.5 158.4 L613.0 162.4 L614.0 171.0 L615.5 182.8 L615.7 183.8 L617.0 189.6 L618.4 192.7 L618.5 192.6 L620.0 181.9 L620.2 180.2 L621.5 166.5 L622.0 162.4 L623.0 156.9 L624.5 150.9 L625.5 148.0 L626.0 146.8 L627.5 143.4 L629.0 140.7 L630.5 138.6 L631.8 137.6 L632.0 137.5 L633.5 136.8 L635.0 136.4 L636.5 136.2 L638.0 136.4 L639.5 136.9 L640.7 137.4 L641.0 137.5 L642.5 138.4 L644.0 139.6 L645.5 141.2 L646.1 141.9 L647.0 143.2 L648.5 146.1 L650.0 149.8 L651.5 154.1 L652.0 155.7 L653.0 159.4 L654.5 166.4 L656.0 174.5 L657.5 182.8 L658.0 185.4 L659.0 190.9 L660.5 199.7 L662.0 208.3 L663.5 215.5 L663.9 217.0 L665.0 221.1 L666.5 226.0 L667.9 227.9 L668.0 227.9 L669.5 226.5 L671.0 223.5 L672.5 219.9 L673.8 217.0 L674.0 216.6 L675.5 213.6 L677.0 210.5 L678.5 207.4 L680.0 204.3 L681.5 201.3 L683.0 198.4 L683.7 197.2 L684.5 195.8 L686.0 193.3 L687.5 190.8 L689.0 188.4 L690.5 186.1 L692.0 183.9 L693.5 181.8 L695.0 180.0 L695.5 179.4 L696.5 178.2 L698.0 176.4 L699.5 174.6 L701.0 172.8 L702.5 171.2 L704.0 170.0 L705.5 169.0 L707.0 168.6 L707.4 168.6 L708.5 168.6 L710.0 168.9 L711.5 169.2 L713.0 169.7 L714.5 170.3 L716.0 170.9 L717.5 171.6 L719.0 172.4 L719.3 172.5 L720.5 173.2 L722.0 174.3 L723.5 175.6 L725.0 177.0 L726.5 178.6 L728.0 180.2 L729.5 181.8 L731.0 183.4 L732.5 184.9 L733.1 185.4 L734.0 186.2 L735.5 187.6 L737.0 188.9 L738.5 190.1 L740.0 191.2 L740.5 191.5 L741.5 192.1 L743.0 193.0 L744.5 193.7 L746.0 194.2 L747.0 194.3 L747.5 194.3 L749.0 194.0 L750.5 193.4 L752.0 192.7 L753.5 192.0 L755.0 191.2 L756.5 190.3 L758.0 189.2 L759.5 188.2 L760.8 187.4 L761.0 187.3 L762.5 186.3 L764.0 185.3 L765.5 184.2 L767.0 183.1 L768.5 182.1 L770.0 181.2 L771.5 180.5 L773.0 180.0 L774.5 179.8 L774.7 179.8 L776.0 179.8 L777.5 179.9 L779.0 180.1 L780.5 180.3 L782.0 180.6 L783.5 180.8 L785.0 181.2 L786.5 181.5 L788.0 181.9 L788.5 182.0 L789.5 182.3 L791.0 182.8 L792.5 183.4 L794.0 184.2 L795.5 185.0 L797.0 185.8 L798.5 186.8 L800.0 187.7 L801.5 188.7 L803.0 189.7 L803.5 190.0 L804.5 190.7 L806.0 191.7 L807.5 192.8 L809.0 194.0 L810.5 195.2 L812.0 196.4 L813.5 197.7 L815.0 199.0 L816.5 200.3 L818.0 201.6 L818.5 202.0 L819.5 202.9 L821.0 204.2 L822.5 205.6 L824.0 207.0 L825.5 208.5 L827.0 209.9 L828.5 211.3 L830.0 212.7 L831.5 214.0 L833.0 215.4 L834.5 217.1 L836.0 218.7 L837.5 220.2 L839.0 221.4 L840.5 222.1 L841.5 222.3 L842.0 222.3 L843.5 221.9 L845.0 221.1 L846.5 220.1 L848.0 218.9 L849.5 217.6 L851.0 216.4 L851.5 216.0 L852.5 215.2 L854.0 214.0 L855.5 212.6 L857.0 211.2 L858.5 209.7 L860.0 208.2 L861.5 206.8 L863.0 205.4 L863.5 205.0 L864.5 204.1 L866.0 202.9 L867.5 201.6 L869.0 200.3 L870.5 199.1 L872.0 197.9 L873.5 196.7 L875.0 195.5 L876.5 194.4 L878.0 193.3 L878.5 193.0 L879.5 192.3 L881.0 191.3 L882.5 190.3 L884.0 189.3 L885.5 188.3 L887.0 187.4 L888.5 186.5 L890.0 185.7 L891.5 184.9 L893.0 184.2 L893.5 184.0 L894.5 183.6 L896.0 182.9 L897.5 182.3 L899.0 181.6 L900.5 181.0 L902.0 180.5 L903.5 180.1 L905.0 179.7 L906.5 179.5 L908.0 179.4 L909.5 179.4 L911.0 179.4 L912.5 179.4 L914.0 179.4 L915.5 179.4 L917.0 179.4 L918.5 179.5 L920.0 179.5 L921.5 179.5 L923.0 179.5 L924.5 179.5 L926.0 179.6 L927.5 179.6 L928.5 179.6 L929.0 179.6 L930.5 179.6 L932.0 179.7 L933.5 179.7 L935.0 179.8 L936.5 179.9 L938.0 179.9 L939.5 180.0 L941.0 180.1 L942.5 180.2 L944.0 180.2 L945.5 180.3 L947.0 180.4 L948.5 180.5 L950.0 180.6 L951.5 180.7 L953.0 180.8 L954.5 180.9 L956.0 180.9 L957.5 181.0 L959.0 181.1 L960.5 181.2 L962.0 181.4 L963.5 181.5 L965.0 181.6 L966.5 181.7 L968.0 181.8 L969.5 181.9 L971.0 182.0 L972.5 182.2 L974.0 182.3" fill="none" stroke="#e8341f" stroke-width="4.3" stroke-linejoin="round" stroke-dasharray="3.9 3.55"/>
<path d="M171.0 240.0L178.0 247.0M171.0 247.0L178.0 240.0" stroke="#0a2df5" stroke-width="3.8" fill="none"/>
<path d="M237.6 249.2L244.6 256.2M237.6 256.2L244.6 249.2" stroke="#0a2df5" stroke-width="3.8" fill="none"/>
<path d="M304.2 241.9L311.2 248.9M304.2 248.9L311.2 241.9" stroke="#0a2df5" stroke-width="3.8" fill="none"/>
<path d="M370.9 219.6L377.9 226.6M370.9 226.6L377.9 219.6" stroke="#0a2df5" stroke-width="3.8" fill="none"/>
<path d="M437.5 207.1L444.5 214.1M437.5 214.1L444.5 207.1" stroke="#0a2df5" stroke-width="3.8" fill="none"/>
<path d="M504.1 202.7L511.1 209.7M504.1 209.7L511.1 202.7" stroke="#0a2df5" stroke-width="3.8" fill="none"/>
<path d="M570.8 60.0L577.8 67.0M570.8 67.0L577.8 60.0" stroke="#0a2df5" stroke-width="3.8" fill="none"/>
<path d="M637.4 202.7L644.4 209.7M637.4 209.7L644.4 202.7" stroke="#0a2df5" stroke-width="3.8" fill="none"/>
<path d="M704.0 207.1L711.0 214.1M704.0 214.1L711.0 207.1" stroke="#0a2df5" stroke-width="3.8" fill="none"/>
<path d="M770.6 219.6L777.6 226.6M770.6 226.6L777.6 219.6" stroke="#0a2df5" stroke-width="3.8" fill="none"/>
<path d="M837.2 241.9L844.2 248.9M837.2 248.9L844.2 241.9" stroke="#0a2df5" stroke-width="3.8" fill="none"/>
<path d="M903.9 249.2L910.9 256.2M903.9 256.2L910.9 249.2" stroke="#0a2df5" stroke-width="3.8" fill="none"/>
<path d="M970.5 240.0L977.5 247.0M970.5 247.0L977.5 240.0" stroke="#0a2df5" stroke-width="3.8" fill="none"/>
<rect x="168.8" y="203.1" width="11.4" height="11.4" fill="#0a2df5"/>
<rect x="235.4" y="191.1" width="11.4" height="11.4" fill="#0a2df5"/>
<rect x="302.1" y="232.1" width="11.4" height="11.4" fill="#0a2df5"/>
<rect x="368.7" y="202.4" width="11.4" height="11.4" fill="#0a2df5"/>
<rect x="435.3" y="190.7" width="11.4" height="11.4" fill="#0a2df5"/>
<rect x="501.9" y="173.6" width="11.4" height="11.4" fill="#0a2df5"/>
<rect x="568.5" y="57.8" width="11.4" height="11.4" fill="#0a2df5"/>
<rect x="635.2" y="173.6" width="11.4" height="11.4" fill="#0a2df5"/>
<rect x="701.8" y="190.7" width="11.4" height="11.4" fill="#0a2df5"/>
<rect x="768.4" y="202.4" width="11.4" height="11.4" fill="#0a2df5"/>
<rect x="835.0" y="232.1" width="11.4" height="11.4" fill="#0a2df5"/>
<rect x="901.7" y="191.1" width="11.4" height="11.4" fill="#0a2df5"/>
<rect x="968.3" y="203.1" width="11.4" height="11.4" fill="#0a2df5"/>
<path d="M169.7 276.3H179.3M174.5 271.5V281.1" stroke="#e8341f" stroke-width="4.0" fill="none"/>
<path d="M236.3 218.6H245.9M241.1 213.8V223.4" stroke="#e8341f" stroke-width="4.0" fill="none"/>
<path d="M302.9 215.1H312.6M307.8 210.3V219.9" stroke="#e8341f" stroke-width="4.0" fill="none"/>
<path d="M369.6 246.2H379.2M374.4 241.4V251.0" stroke="#e8341f" stroke-width="4.0" fill="none"/>
<path d="M436.2 221.8H445.8M441.0 217.0V226.6" stroke="#e8341f" stroke-width="4.0" fill="none"/>
<path d="M502.8 198.9H512.4M507.6 194.1V203.7" stroke="#e8341f" stroke-width="4.0" fill="none"/>
<path d="M569.5 62.6H579.0M574.2 57.8V67.4" stroke="#e8341f" stroke-width="4.0" fill="none"/>
<path d="M636.1 198.9H645.7M640.9 194.1V203.7" stroke="#e8341f" stroke-width="4.0" fill="none"/>
<path d="M702.7 221.8H712.3M707.5 217.0V226.6" stroke="#e8341f" stroke-width="4.0" fill="none"/>
<path d="M769.3 246.2H778.9M774.1 241.4V251.0" stroke="#e8341f" stroke-width="4.0" fill="none"/>
<path d="M836.0 215.1H845.5M840.8 210.3V219.9" stroke="#e8341f" stroke-width="4.0" fill="none"/>
<path d="M902.6 218.6H912.2M907.4 213.8V223.4" stroke="#e8341f" stroke-width="4.0" fill="none"/>
<path d="M969.2 276.3H978.8M974.0 271.5V281.1" stroke="#e8341f" stroke-width="4.0" fill="none"/>
<circle cx="174.5" cy="182.3" r="7.2" fill="#e8341f"/>
<circle cx="241.1" cy="179.4" r="7.2" fill="#e8341f"/>
<circle cx="307.8" cy="222.2" r="7.2" fill="#e8341f"/>
<circle cx="374.4" cy="179.8" r="7.2" fill="#e8341f"/>
<circle cx="441.0" cy="168.6" r="7.2" fill="#e8341f"/>
<circle cx="507.6" cy="137.5" r="7.2" fill="#e8341f"/>
<circle cx="574.2" cy="62.6" r="7.2" fill="#e8341f"/>
<circle cx="640.9" cy="137.5" r="7.2" fill="#e8341f"/>
<circle cx="707.5" cy="168.6" r="7.2" fill="#e8341f"/>
<circle cx="774.1" cy="179.8" r="7.2" fill="#e8341f"/>
<circle cx="840.8" cy="222.2" r="7.2" fill="#e8341f"/>
<circle cx="907.4" cy="179.4" r="7.2" fill="#e8341f"/>
<circle cx="974.0" cy="182.3" r="7.2" fill="#e8341f"/>
<rect x="725.5" y="44.5" width="243" height="92.5" fill="#fff" stroke="#262626" stroke-width="3.4"/>
<path d="M728 55.2H753" stroke="#e8341f" stroke-width="4.2"/>
<path d="M735.7 55.2H745.3M740.5 50.4V60.0" stroke="#e8341f" stroke-width="4.0" fill="none"/>
<text class="lg" x="755" y="62.4" textLength="204" lengthAdjust="spacingAndGlyphs" xml:space="preserve">Vivaldi - E-plane</text>
<path d="M728 77.8H753" stroke="#e8341f" stroke-width="4.2" stroke-dasharray="3.9 3.55"/>
<circle cx="740.5" cy="77.8" r="6.6" fill="#e8341f"/>
<text class="lg" x="755" y="85.0" textLength="208" lengthAdjust="spacingAndGlyphs" xml:space="preserve">Vivaldi - H-plane</text>
<path d="M728 100.8H753" stroke="#0a2df5" stroke-width="4.2"/>
<path d="M737.0 97.3L744.0 104.3M737.0 104.3L744.0 97.3" stroke="#0a2df5" stroke-width="3.8" fill="none"/>
<text class="lg" x="755" y="108.0" textLength="195" lengthAdjust="spacingAndGlyphs" xml:space="preserve">Dipole - E-plane</text>
<path d="M728 123.5H753" stroke="#0a2df5" stroke-width="4.2" stroke-dasharray="3.9 3.55"/>
<rect x="734.9" y="117.9" width="11.2" height="11.2" fill="#0a2df5"/>
<text class="lg" x="755" y="130.7" textLength="199" lengthAdjust="spacingAndGlyphs" xml:space="preserve">Dipole - H-plane</text>
<text class="b" x="166.8" y="45.0" text-anchor="end" textLength="32" lengthAdjust="spacingAndGlyphs">30</text>
<text class="b" x="166.8" y="95.9" text-anchor="end" textLength="32" lengthAdjust="spacingAndGlyphs">20</text>
<text class="b" x="166.8" y="146.7" text-anchor="end" textLength="32" lengthAdjust="spacingAndGlyphs">10</text>
<text class="b" x="166.8" y="197.6" text-anchor="end" textLength="15.5" lengthAdjust="spacingAndGlyphs">0</text>
<text class="b" x="166.8" y="248.4" text-anchor="end" textLength="43.5" lengthAdjust="spacingAndGlyphs">-10</text>
<text class="b" x="166.8" y="299.3" text-anchor="end" textLength="43.5" lengthAdjust="spacingAndGlyphs">-20</text>
<text class="b" x="166.8" y="350.1" text-anchor="end" textLength="43.5" lengthAdjust="spacingAndGlyphs">-30</text>
<text class="b" x="166.8" y="401.0" text-anchor="end" textLength="43.5" lengthAdjust="spacingAndGlyphs">-40</text>
<text class="b" x="173.5" y="422.5" text-anchor="middle" textLength="43.5" lengthAdjust="spacingAndGlyphs">-90</text>
<text class="b" x="306.8" y="422.5" text-anchor="middle" textLength="43.5" lengthAdjust="spacingAndGlyphs">-60</text>
<text class="b" x="440.0" y="422.5" text-anchor="middle" textLength="43.5" lengthAdjust="spacingAndGlyphs">-30</text>
<text class="b" x="574.2" y="422.5" text-anchor="middle" textLength="15.5" lengthAdjust="spacingAndGlyphs">0</text>
<text class="b" x="707.5" y="422.5" text-anchor="middle" textLength="32.5" lengthAdjust="spacingAndGlyphs">30</text>
<text class="b" x="840.8" y="422.5" text-anchor="middle" textLength="32.5" lengthAdjust="spacingAndGlyphs">60</text>
<text class="b" x="974.0" y="422.5" text-anchor="middle" textLength="32.5" lengthAdjust="spacingAndGlyphs">90</text>
<text class="b" x="573.5" y="450.7" text-anchor="middle" textLength="131" lengthAdjust="spacingAndGlyphs">Theta (°)</text>
<text class="b" x="458.2" y="20.8" textLength="66" lengthAdjust="spacingAndGlyphs">Gain</text>
<text class="b" x="538.4" y="20.8" textLength="12.5" lengthAdjust="spacingAndGlyphs">-</text>
<text class="b" x="559.6" y="20.8" textLength="49.2" lengthAdjust="spacingAndGlyphs">150</text>
<text class="b" x="621.2" y="20.8" textLength="69" lengthAdjust="spacingAndGlyphs">MHz</text>
<text class="b" transform="translate(99,330.6) rotate(-90)" textLength="141.5" lengthAdjust="spacingAndGlyphs">Amplitude</text>
<text class="b" transform="translate(99,172.6) rotate(-90)" textLength="74" lengthAdjust="spacingAndGlyphs">(dB)</text>
</g>
<text class="ss" transform="translate(-2.4,223.6) scale(1.0,1)" font-size="45" stroke="#111" stroke-width="0.7">(</text>
<text class="ss" transform="translate(11.2,226.6) scale(0.78,1)" font-size="48" stroke="#111" stroke-width="0.7">a</text>
<text class="ss" transform="translate(35.8,223.6) scale(1.0,1)" font-size="45" stroke="#111" stroke-width="0.7">)</text>
<text class="ss" transform="translate(0,848.2) scale(1.0,1)" font-size="45.5" stroke="#111" stroke-width="0.7">(</text>
<text class="ss" transform="translate(14.7,851.7) scale(1.06,1)" font-size="49.5" stroke="#111" stroke-width="0.7">b</text>
<text class="ss" transform="translate(44,848.2) scale(1.0,1)" font-size="45.5" stroke="#111" stroke-width="0.7">)</text>
<g id="cbar">
<rect x="860" y="493" width="150.6" height="518" fill="#f2f2f2"/>
<rect x="971.5" y="535" width="34.5" height="18.7" fill="#e93323"/>
<rect x="971.5" y="553.4" width="34.5" height="35.7" fill="#ee5b29"/>
<rect x="971.5" y="588.8" width="34.5" height="36.1" fill="#f4a23a"/>
<rect x="971.5" y="624.6" width="34.5" height="35.7" fill="#fde94f"/>
<rect x="971.5" y="660" width="34.5" height="36.3" fill="#e2f94e"/>
<rect x="971.5" y="696" width="34.5" height="34.9" fill="#b6f84a"/>
<rect x="971.5" y="730.6" width="34.5" height="35.7" fill="#7ff64f"/>
<rect x="971.5" y="766" width="34.5" height="36.5" fill="#7af04e"/>
<rect x="971.5" y="802.2" width="34.5" height="35.1" fill="#6ff5a9"/>
<rect x="971.5" y="837" width="34.5" height="36.3" fill="#6df6da"/>
<rect x="971.5" y="873" width="34.5" height="36.5" fill="#69e8fc"/>
<rect x="971.5" y="909.2" width="34.5" height="33.7" fill="#3f95f6"/>
<rect x="971.5" y="942.6" width="34.5" height="36.9" fill="#0e4cf5"/>
<rect x="971.5" y="979.2" width="34.5" height="17.3" fill="#0829f4"/>
<rect x="968.6" y="535" width="3" height="461.2" fill="#a8a8a8"/>
<rect x="1005.2" y="534.2" width="2.1" height="463" fill="#111"/>
<rect x="970" y="534.2" width="37" height="1.8" fill="#111"/>
<rect x="970" y="995.4" width="37" height="1.8" fill="#111"/>
<rect x="964.5" y="534.5" width="6" height="1.8" fill="#111"/>
<text class="mono" x="947" y="545.7" text-anchor="end">24.8</text>
<rect x="964.5" y="569.1" width="6" height="1.8" fill="#111"/>
<text class="mono" x="947" y="580.3" text-anchor="end">20.9</text>
<rect x="964.5" y="604.5" width="6" height="1.8" fill="#111"/>
<text class="mono" x="947" y="615.7" text-anchor="end">17.1</text>
<rect x="964.5" y="639.7" width="6" height="1.8" fill="#111"/>
<text class="mono" x="947" y="650.9" text-anchor="end">13.3</text>
<rect x="964.5" y="676.3" width="6" height="1.8" fill="#111"/>
<text class="mono" x="947" y="687.5" text-anchor="end">9.52</text>
<rect x="964.5" y="709.5" width="6" height="1.8" fill="#111"/>
<text class="mono" x="947" y="720.7" text-anchor="end">5.71</text>
<rect x="964.5" y="765.1" width="6" height="1.8" fill="#111"/>
<text class="mono" x="933.4" y="776.3" text-anchor="middle">0</text>
<rect x="964.5" y="818.6" width="6" height="1.8" fill="#111"/>
<text class="mono" x="947" y="829.8" text-anchor="end">-2.36</text>
<rect x="964.5" y="852.7" width="6" height="1.8" fill="#111"/>
<text class="mono" x="947" y="863.9" text-anchor="end">-3.94</text>
<rect x="964.5" y="889.4" width="6" height="1.8" fill="#111"/>
<text class="mono" x="947" y="900.6" text-anchor="end">-5.52</text>
<rect x="964.5" y="924.4" width="6" height="1.8" fill="#111"/>
<text class="mono" x="947" y="935.6" text-anchor="end">-7.09</text>
<rect x="964.5" y="959.1" width="6" height="1.8" fill="#111"/>
<text class="mono" x="947" y="970.3" text-anchor="end">-8.67</text>
<rect x="964.5" y="995.4" width="6" height="1.8" fill="#111"/>
<text class="mono" x="947" y="1006.6" text-anchor="end">-10.2</text>
<text class="mono" x="949" y="515" text-anchor="middle">dB</text>
</g>
<defs>
<pattern id="hatch" width="3" height="3" patternUnits="userSpaceOnUse" patternTransform="rotate(-12)">
<rect width="3" height="3" fill="#474747"/><rect width="3" height="1.5" fill="#1c1c1c"/></pattern>
<pattern id="hatchL" width="3" height="3" patternUnits="userSpaceOnUse" patternTransform="rotate(58)">
<rect width="3" height="3" fill="#484848"/><rect width="3" height="1.5" fill="#1d1d1d"/></pattern>
<pattern id="hatchR" width="3" height="3" patternUnits="userSpaceOnUse" patternTransform="rotate(-56)">
<rect width="3" height="3" fill="#484848"/><rect width="3" height="1.5" fill="#1d1d1d"/></pattern>
</defs>
<g id="dish">
<path d="M142.5 862 C170 890 215 925 270 950 C330 977 410 1001 480 1003.5 C545 1004 640 985 711 958 C760 938 800 912 822 892 L707 925 L538 941 L352 934 L208 904 Z" fill="#000"/>
<path d="M287 773.2 L414.6 762 L541.7 762 L641.8 766.5 L780.6 797.3 L852.5 842 L846 863 L842.2 872 L819.5 895 L707.4 926 L537.8 941.5 L430 940.5 L352.4 934.6 L208.2 905 L142 866.5 L142 857 L169.6 808.8 Z" fill="#3e3e3e"/>
<path d="M288 775.5 L414.6 765 L541.7 765.5 L640 769.5 L777 799.5 L848 843 L838 868 L815 889 L706 919 L537 933 L430 933 L356 928 L214 899.5 L146 862 L146 858 L173 811 Z" fill="url(#hatch)"/>
<path d="M146 858 L173 811 L214 899.5 L146 862 Z" fill="url(#hatchL)"/>
<path d="M848 843 L777 799.5 L815 889 L838 868 Z" fill="url(#hatchR)"/>
<path d="M353.7 933.2 L535.5 939 L535.5 948 L353.7 939.6 Z" fill="#c2c2c2"/>
<path d="M535.5 939.3 L709.4 924.2 L710.5 929.6 L535.5 947.6 Z" fill="#8e8e8e"/>
<path d="M208.6 904.2 L353.7 933.2 L353.7 939.6 L300 930 Z" fill="#6e6e6e"/>
<path d="M414.6 762 L541.7 762 L641.8 766.5 L640 770.5 L541.7 766.5 L414.6 766 Z" fill="#b8b8b8"/>
<path d="M287 773.2 L414.6 762 L414.6 765.5 L288 776 Z" fill="#8a8a8a"/>
<path d="M169.6 808.8 L287 773.2 L288 776 L173 811.5 Z" fill="#777"/>
<path d="M641.8 766.5 L780.6 797.3 L777 800 L640 770 Z" fill="#555"/>
<path d="M287 774 L366 930" stroke="#0c0c0c" stroke-width="1" fill="none"/>
<path d="M230 790 L300 915" stroke="#0c0c0c" stroke-width="1" fill="none"/>
<path d="M370 766 L410 850" stroke="#0c0c0c" stroke-width="1" fill="none"/>
<path d="M642 768 L575 860" stroke="#0c0c0c" stroke-width="1" fill="none"/>
<path d="M700 780 L600 900" stroke="#0c0c0c" stroke-width="1" fill="none"/>
<path d="M780 798 L640 925" stroke="#0c0c0c" stroke-width="1" fill="none"/>
<path d="M820 825 L700 922" stroke="#0c0c0c" stroke-width="1" fill="none"/>
<path d="M173 811 L250 880 L352 930" stroke="#0c0c0c" stroke-width="1" fill="none"/>
<path d="M484 905 L484 935" stroke="#0c0c0c" stroke-width="1" fill="none"/>
<path d="M430 900 L400 932" stroke="#0c0c0c" stroke-width="1" fill="none"/>
<path d="M540 905 L570 935" stroke="#0c0c0c" stroke-width="1" fill="none"/>
<path d="M200 851 H800" stroke="#111" stroke-width="1" stroke-dasharray="2 3" fill="none"/>
</g>
<defs><radialGradient id="rg" gradientUnits="userSpaceOnUse" cx="484.0" cy="872.0" r="380.0"><stop offset="0.0000" stop-color="#2a6cd8"/><stop offset="0.0500" stop-color="#2a6cd8"/><stop offset="0.0500" stop-color="#55bfe0"/><stop offset="0.0974" stop-color="#55bfe0"/><stop offset="0.0974" stop-color="#5fd2c0"/><stop offset="0.1447" stop-color="#5fd2c0"/><stop offset="0.1447" stop-color="#5fd090"/><stop offset="0.1895" stop-color="#5fd090"/><stop offset="0.1895" stop-color="#62cb3e"/><stop offset="0.3355" stop-color="#62cb3e"/><stop offset="0.3355" stop-color="#94d03a"/><stop offset="0.4579" stop-color="#94d03a"/><stop offset="0.4579" stop-color="#bdd73e"/><stop offset="0.5947" stop-color="#bdd73e"/><stop offset="0.5947" stop-color="#dcc93f"/><stop offset="0.6737" stop-color="#dcc93f"/><stop offset="0.6737" stop-color="#d48c2e"/><stop offset="0.7921" stop-color="#d48c2e"/><stop offset="0.7921" stop-color="#cf4c22"/><stop offset="0.9171" stop-color="#cf4c22"/><stop offset="0.9171" stop-color="#cf2a1b"/><stop offset="1.0000" stop-color="#cf2a1b"/></radialGradient>
<defs><linearGradient id="shLM" gradientUnits="userSpaceOnUse" x1="469.2" y1="879.1" x2="501.5" y2="863.7"><stop offset="0" stop-color="#000" stop-opacity="0.18"/><stop offset=".3" stop-color="#000" stop-opacity="0"/><stop offset=".32" stop-color="#fff" stop-opacity="0"/><stop offset=".48" stop-color="#fff" stop-opacity=".1"/><stop offset=".64" stop-color="#fff" stop-opacity="0"/><stop offset=".66" stop-color="#000" stop-opacity="0"/><stop offset="1" stop-color="#000" stop-opacity="0.16"/></linearGradient><linearGradient id="shLL" gradientUnits="userSpaceOnUse" x1="468.0" y1="885.0" x2="491.3" y2="866.1"><stop offset="0" stop-color="#000" stop-opacity="0.18"/><stop offset=".3" stop-color="#000" stop-opacity="0"/><stop offset=".32" stop-color="#fff" stop-opacity="0"/><stop offset=".48" stop-color="#fff" stop-opacity=".1"/><stop offset=".64" stop-color="#fff" stop-opacity="0"/><stop offset=".66" stop-color="#000" stop-opacity="0"/><stop offset="1" stop-color="#000" stop-opacity="0.16"/></linearGradient><linearGradient id="shRU" gradientUnits="userSpaceOnUse" x1="455.3" y1="862.1" x2="502.8" y2="878.5"><stop offset="0" stop-color="#000" stop-opacity="0.18"/><stop offset=".3" stop-color="#000" stop-opacity="0"/><stop offset=".32" stop-color="#fff" stop-opacity="0"/><stop offset=".48" stop-color="#fff" stop-opacity=".1"/><stop offset=".64" stop-color="#fff" stop-opacity="0"/><stop offset=".66" stop-color="#000" stop-opacity="0"/><stop offset="1" stop-color="#000" stop-opacity="0.16"/></linearGradient><linearGradient id="shRM" gradientUnits="userSpaceOnUse" x1="475.7" y1="865.0" x2="495.8" y2="881.8"><stop offset="0" stop-color="#000" stop-opacity="0.18"/><stop offset=".3" stop-color="#000" stop-opacity="0"/><stop offset=".32" stop-color="#fff" stop-opacity="0"/><stop offset=".48" stop-color="#fff" stop-opacity=".1"/><stop offset=".64" stop-color="#fff" stop-opacity="0"/><stop offset=".66" stop-color="#000" stop-opacity="0"/><stop offset="1" stop-color="#000" stop-opacity="0.16"/></linearGradient><linearGradient id="shRL" gradientUnits="userSpaceOnUse" x1="480.5" y1="866.6" x2="494.8" y2="888.3"><stop offset="0" stop-color="#000" stop-opacity="0.18"/><stop offset=".3" stop-color="#000" stop-opacity="0"/><stop offset=".32" stop-color="#fff" stop-opacity="0"/><stop offset=".48" stop-color="#fff" stop-opacity=".1"/><stop offset=".64" stop-color="#fff" stop-opacity="0"/><stop offset=".66" stop-color="#000" stop-opacity="0"/><stop offset="1" stop-color="#000" stop-opacity="0.16"/></linearGradient></defs>
<linearGradient id="gBL" gradientUnits="userSpaceOnUse" x1="484.0" y1="872.0" x2="321.32000000000005" y2="852.4"><stop offset="0.0000" stop-color="#2a6cd8"/><stop offset="0.1709" stop-color="#2a6cd8"/><stop offset="0.1709" stop-color="#55bfe0"/><stop offset="0.2807" stop-color="#55bfe0"/><stop offset="0.2807" stop-color="#5fd2c0"/><stop offset="0.3906" stop-color="#5fd2c0"/><stop offset="0.3906" stop-color="#5fd090"/><stop offset="0.4943" stop-color="#5fd090"/><stop offset="0.4943" stop-color="#62cb3e"/><stop offset="0.8330" stop-color="#62cb3e"/><stop offset="0.8330" stop-color="#94d03a"/><stop offset="1.0000" stop-color="#94d03a"/><stop offset="1.0000" stop-color="#bdd73e"/><stop offset="1.0000" stop-color="#bdd73e"/><stop offset="1.0000" stop-color="#dcc93f"/><stop offset="1.0000" stop-color="#dcc93f"/><stop offset="1.0000" stop-color="#d48c2e"/><stop offset="1.0000" stop-color="#d48c2e"/><stop offset="1.0000" stop-color="#cf4c22"/><stop offset="1.0000" stop-color="#cf4c22"/><stop offset="1.0000" stop-color="#cf2a1b"/><stop offset="1.0000" stop-color="#cf2a1b"/></linearGradient>
<linearGradient id="gBR" gradientUnits="userSpaceOnUse" x1="484.0" y1="872.0" x2="682.3800000000001" y2="886.0"><stop offset="0.0000" stop-color="#2a6cd8"/><stop offset="0.1106" stop-color="#2a6cd8"/><stop offset="0.1106" stop-color="#55bfe0"/><stop offset="0.2011" stop-color="#55bfe0"/><stop offset="0.2011" stop-color="#5fd2c0"/><stop offset="0.2916" stop-color="#5fd2c0"/><stop offset="0.2916" stop-color="#5fd090"/><stop offset="0.3771" stop-color="#5fd090"/><stop offset="0.3771" stop-color="#62cb3e"/><stop offset="0.6562" stop-color="#62cb3e"/><stop offset="0.6562" stop-color="#94d03a"/><stop offset="0.8900" stop-color="#94d03a"/><stop offset="0.8900" stop-color="#bdd73e"/><stop offset="1.0000" stop-color="#bdd73e"/><stop offset="1.0000" stop-color="#dcc93f"/><stop offset="1.0000" stop-color="#dcc93f"/><stop offset="1.0000" stop-color="#d48c2e"/><stop offset="1.0000" stop-color="#d48c2e"/><stop offset="1.0000" stop-color="#cf4c22"/><stop offset="1.0000" stop-color="#cf4c22"/><stop offset="1.0000" stop-color="#cf2a1b"/><stop offset="1.0000" stop-color="#cf2a1b"/></linearGradient>
<radialGradient id="rg2" gradientTransform="translate(484.0,872.0) scale(1.1,1) translate(-484.0,-872.0)" gradientUnits="userSpaceOnUse" cx="484.0" cy="872.0" r="380.0"><stop offset="0.0000" stop-color="#2a6cd8"/><stop offset="0.0500" stop-color="#2a6cd8"/><stop offset="0.0500" stop-color="#55bfe0"/><stop offset="0.0974" stop-color="#55bfe0"/><stop offset="0.0974" stop-color="#5fd2c0"/><stop offset="0.1447" stop-color="#5fd2c0"/><stop offset="0.1447" stop-color="#5fd090"/><stop offset="0.1895" stop-color="#5fd090"/><stop offset="0.1895" stop-color="#62cb3e"/><stop offset="0.3355" stop-color="#62cb3e"/><stop offset="0.3355" stop-color="#94d03a"/><stop offset="0.4579" stop-color="#94d03a"/><stop offset="0.4579" stop-color="#bdd73e"/><stop offset="0.5947" stop-color="#bdd73e"/><stop offset="0.5947" stop-color="#dcc93f"/><stop offset="0.6737" stop-color="#dcc93f"/><stop offset="0.6737" stop-color="#d48c2e"/><stop offset="0.7921" stop-color="#d48c2e"/><stop offset="0.7921" stop-color="#cf4c22"/><stop offset="0.9171" stop-color="#cf4c22"/><stop offset="0.9171" stop-color="#cf2a1b"/><stop offset="1.0000" stop-color="#cf2a1b"/></radialGradient>
<radialGradient id="rgS" gradientTransform="translate(484.0,872.0) scale(1,0.78) translate(-484.0,-872.0)" gradientUnits="userSpaceOnUse" cx="484.0" cy="872.0" r="380.0"><stop offset="0.0000" stop-color="#2a6cd8"/><stop offset="0.0500" stop-color="#2a6cd8"/><stop offset="0.0500" stop-color="#55bfe0"/><stop offset="0.0974" stop-color="#55bfe0"/><stop offset="0.0974" stop-color="#5fd2c0"/><stop offset="0.1447" stop-color="#5fd2c0"/><stop offset="0.1447" stop-color="#5fd090"/><stop offset="0.1895" stop-color="#5fd090"/><stop offset="0.1895" stop-color="#62cb3e"/><stop offset="0.3355" stop-color="#62cb3e"/><stop offset="0.3355" stop-color="#94d03a"/><stop offset="0.4579" stop-color="#94d03a"/><stop offset="0.4579" stop-color="#bdd73e"/><stop offset="0.5947" stop-color="#bdd73e"/><stop offset="0.5947" stop-color="#dcc93f"/><stop offset="0.6737" stop-color="#dcc93f"/><stop offset="0.6737" stop-color="#d48c2e"/><stop offset="0.7921" stop-color="#d48c2e"/><stop offset="0.7921" stop-color="#cf4c22"/><stop offset="0.9171" stop-color="#cf4c22"/><stop offset="0.9171" stop-color="#cf2a1b"/><stop offset="1.0000" stop-color="#cf2a1b"/></radialGradient>
<linearGradient id="shM" x1="462" x2="536" y1="0" y2="0" gradientUnits="userSpaceOnUse"><stop offset="0" stop-color="#000" stop-opacity=".24"/><stop offset=".12" stop-color="#000" stop-opacity=".1"/><stop offset=".32" stop-color="#000" stop-opacity="0"/><stop offset=".7" stop-color="#000" stop-opacity="0"/><stop offset=".9" stop-color="#000" stop-opacity=".08"/><stop offset="1" stop-color="#000" stop-opacity=".2"/></linearGradient>
<clipPath id="cpM"><path d="M462.4 593.2A36.25 97.6 0 0 1 534.9 593.2C534.9 599.7 534.9 620.4 534.6 632.4C534.3 644.4 534.1 653.7 533.2 665.0C532.4 676.3 531.4 684.2 529.5 700.0C527.6 715.8 525.6 738.3 522.0 760.0C518.4 781.7 513.0 811.3 508.0 830.0C503.0 848.7 494.7 865.0 492.0 872.0L484 872C483.0 860.0 479.9 818.4 478.0 800.0C476.1 781.6 474.5 774.1 472.9 761.9C471.3 749.7 469.9 740.1 468.6 727.0C467.3 713.9 466.0 695.5 465.3 683.5C464.6 671.5 464.6 663.5 464.2 655.0C463.8 646.5 463.5 642.7 463.2 632.4C462.9 622.1 462.5 599.7 462.4 593.2Z"/></clipPath>
</defs>
<g id="lobes">
<path d="M450.0 654.0C447.8 654.5 444.8 656.6 443.0 659.0C441.2 661.4 440.0 664.8 439.2 668.3C438.4 671.8 438.0 675.6 438.0 680.0C438.0 684.4 438.0 686.6 439.0 694.4C440.0 702.2 442.2 717.2 444.0 727.0C445.8 736.8 447.0 740.8 450.0 753.0C453.0 765.2 457.3 782.2 462.0 800.0C466.7 817.8 473.3 850.0 478.0 860.0C482.7 870.0 489.7 876.7 490.0 860.0C490.3 843.3 483.3 786.7 480.0 760.0C476.7 733.3 473.0 715.8 470.0 700.0C467.0 684.2 464.3 672.3 462.0 665.0C459.7 657.7 458.0 657.8 456.0 656.0C454.0 654.2 452.2 653.5 450.0 654.0Z" fill="url(#rg)"/>
<path d="M450.0 654.0C447.8 654.5 444.8 656.6 443.0 659.0C441.2 661.4 440.0 664.8 439.2 668.3C438.4 671.8 438.0 675.6 438.0 680.0C438.0 684.4 438.0 686.6 439.0 694.4C440.0 702.2 442.2 717.2 444.0 727.0C445.8 736.8 447.0 740.8 450.0 753.0C453.0 765.2 457.3 782.2 462.0 800.0C466.7 817.8 473.3 850.0 478.0 860.0C482.7 870.0 489.7 876.7 490.0 860.0C490.3 843.3 483.3 786.7 480.0 760.0C476.7 733.3 473.0 715.8 470.0 700.0C467.0 684.2 464.3 672.3 462.0 665.0C459.7 657.7 458.0 657.8 456.0 656.0C454.0 654.2 452.2 653.5 450.0 654.0Z" fill="#000" opacity=".06"/>
<g clip-path="url(#cpM)">
<rect x="440" y="490" width="120" height="400" fill="#cf2a1b"/>
<path d="M440 514.9 Q499 533.7 558 514.9 V900 H440Z" fill="#cf4c22"/>
<path d="M440 550.8 Q499 592.8 558 550.8 V900 H440Z" fill="#d48c2e"/>
<path d="M440 595.8 Q499 637.8 558 595.8 V900 H440Z" fill="#dcc93f"/>
<path d="M440 637.8 Q499 679.8 558 637.8 V900 H440Z" fill="#bdd73e"/>
<path d="M440 677.8 Q499 719.8 558 677.8 V900 H440Z" fill="#94d03a"/>
<path d="M440 734.3 Q499 756.3 558 734.3 V900 H440Z" fill="#62cb3e"/>
<path d="M440 789.8 Q499 811.8 558 789.8 V900 H440Z" fill="#5fd090"/>
<path d="M440 806.8 Q499 828.8 558 806.8 V900 H440Z" fill="#5fd2c0"/>
<path d="M440 824.8 Q499 846.8 558 824.8 V900 H440Z" fill="#55bfe0"/>
<path d="M440 842.8 Q499 864.8 558 842.8 V900 H440Z" fill="#2a6cd8"/>
<rect x="440" y="490" width="120" height="400" fill="url(#shM)"/>
</g>
<path d="M420.7 739.0C419.0 739.8 417.0 741.4 416.0 743.0C415.0 744.6 414.9 746.0 414.8 748.8C414.7 751.6 414.7 755.6 415.5 760.0C416.3 764.4 416.4 767.3 419.6 774.9C422.8 782.5 429.0 795.2 434.8 805.4C440.6 815.6 447.2 825.5 454.4 835.9C461.6 846.3 472.4 864.0 478.0 868.0C483.6 872.0 489.3 866.3 488.0 860.0C486.7 853.7 474.2 838.4 470.0 830.0C465.8 821.6 465.6 818.9 463.0 809.7C460.4 800.5 456.9 784.8 454.4 775.0C451.9 765.2 450.3 756.3 447.9 751.0C445.5 745.7 442.6 744.8 440.0 743.0C437.4 741.2 434.9 740.8 432.6 740.0C430.3 739.2 428.0 738.2 426.0 738.0C424.0 737.8 422.4 738.2 420.7 739.0Z" fill="url(#rg2)"/>
<path d="M420.7 739.0C419.0 739.8 417.0 741.4 416.0 743.0C415.0 744.6 414.9 746.0 414.8 748.8C414.7 751.6 414.7 755.6 415.5 760.0C416.3 764.4 416.4 767.3 419.6 774.9C422.8 782.5 429.0 795.2 434.8 805.4C440.6 815.6 447.2 825.5 454.4 835.9C461.6 846.3 472.4 864.0 478.0 868.0C483.6 872.0 489.3 866.3 488.0 860.0C486.7 853.7 474.2 838.4 470.0 830.0C465.8 821.6 465.6 818.9 463.0 809.7C460.4 800.5 456.9 784.8 454.4 775.0C451.9 765.2 450.3 756.3 447.9 751.0C445.5 745.7 442.6 744.8 440.0 743.0C437.4 741.2 434.9 740.8 432.6 740.0C430.3 739.2 428.0 738.2 426.0 738.0C424.0 737.8 422.4 738.2 420.7 739.0Z" fill="url(#shLM)"/>
<path d="M408.7 779.3C406.8 780.2 403.8 782.2 402.5 784.0C401.2 785.8 400.9 787.3 401.0 790.0C401.1 792.7 401.7 796.3 403.0 800.0C404.3 803.7 404.5 806.4 408.7 812.0C412.9 817.6 420.6 826.0 428.3 833.7C436.0 841.4 446.4 851.6 455.0 858.0C463.6 864.4 474.5 871.3 480.0 872.0C485.5 872.7 491.3 868.2 488.0 862.0C484.7 855.8 468.5 843.7 460.0 835.0C451.5 826.3 443.7 818.6 437.0 809.7C430.3 800.8 423.4 786.7 419.6 781.5C415.8 776.3 415.8 778.9 414.0 778.5C412.2 778.1 410.6 778.4 408.7 779.3Z" fill="url(#rg2)"/>
<path d="M408.7 779.3C406.8 780.2 403.8 782.2 402.5 784.0C401.2 785.8 400.9 787.3 401.0 790.0C401.1 792.7 401.7 796.3 403.0 800.0C404.3 803.7 404.5 806.4 408.7 812.0C412.9 817.6 420.6 826.0 428.3 833.7C436.0 841.4 446.4 851.6 455.0 858.0C463.6 864.4 474.5 871.3 480.0 872.0C485.5 872.7 491.3 868.2 488.0 862.0C484.7 855.8 468.5 843.7 460.0 835.0C451.5 826.3 443.7 818.6 437.0 809.7C430.3 800.8 423.4 786.7 419.6 781.5C415.8 776.3 415.8 778.9 414.0 778.5C412.2 778.1 410.6 778.4 408.7 779.3Z" fill="url(#shLL)"/>
<path d="M555.0 666.1C552.0 667.6 544.8 671.5 539.3 677.0C533.8 682.5 527.7 689.7 521.9 698.8C516.1 707.9 509.6 720.5 504.5 731.4C499.4 742.3 495.0 755.5 491.4 764.0C487.8 772.5 484.6 766.5 482.7 782.5C480.8 798.5 477.9 845.8 480.0 860.0C482.1 874.2 489.2 873.0 495.0 868.0C500.8 863.0 509.1 841.9 515.0 830.0C520.9 818.1 526.2 807.3 530.6 796.7C535.0 786.1 538.6 776.0 541.5 766.2C544.4 756.4 545.6 748.1 548.0 738.0C550.4 727.9 554.0 713.3 555.6 705.3C557.2 697.3 557.4 695.1 557.8 690.0C558.2 684.9 557.9 678.5 557.8 674.8C557.7 671.1 557.5 669.5 557.0 668.0C556.5 666.5 558.0 664.6 555.0 666.1Z" fill="url(#rg2)"/>
<path d="M555.0 666.1C552.0 667.6 544.8 671.5 539.3 677.0C533.8 682.5 527.7 689.7 521.9 698.8C516.1 707.9 509.6 720.5 504.5 731.4C499.4 742.3 495.0 755.5 491.4 764.0C487.8 772.5 484.6 766.5 482.7 782.5C480.8 798.5 477.9 845.8 480.0 860.0C482.1 874.2 489.2 873.0 495.0 868.0C500.8 863.0 509.1 841.9 515.0 830.0C520.9 818.1 526.2 807.3 530.6 796.7C535.0 786.1 538.6 776.0 541.5 766.2C544.4 756.4 545.6 748.1 548.0 738.0C550.4 727.9 554.0 713.3 555.6 705.3C557.2 697.3 557.4 695.1 557.8 690.0C558.2 684.9 557.9 678.5 557.8 674.8C557.7 671.1 557.5 669.5 557.0 668.0C556.5 666.5 558.0 664.6 555.0 666.1Z" fill="url(#shRU)"/>
<path d="M579.5 757.5C577.9 757.7 574.4 758.9 572.0 760.0C569.6 761.1 570.1 760.1 565.4 764.0C560.7 767.9 550.9 775.6 543.6 783.6C536.4 791.6 528.4 802.5 521.9 811.9C515.4 821.3 510.8 830.9 504.5 840.2C498.2 849.6 485.6 862.2 484.0 868.0C482.4 873.8 487.2 880.4 495.0 875.0C502.8 869.6 521.1 846.0 530.6 835.9C540.1 825.8 545.0 822.8 552.3 814.1C559.5 805.4 569.2 792.0 574.1 783.6C579.0 775.2 580.5 768.1 581.7 764.0C582.9 759.9 581.9 760.1 581.5 759.0C581.1 757.9 581.1 757.3 579.5 757.5Z" fill="url(#rg2)"/>
<path d="M579.5 757.5C577.9 757.7 574.4 758.9 572.0 760.0C569.6 761.1 570.1 760.1 565.4 764.0C560.7 767.9 550.9 775.6 543.6 783.6C536.4 791.6 528.4 802.5 521.9 811.9C515.4 821.3 510.8 830.9 504.5 840.2C498.2 849.6 485.6 862.2 484.0 868.0C482.4 873.8 487.2 880.4 495.0 875.0C502.8 869.6 521.1 846.0 530.6 835.9C540.1 825.8 545.0 822.8 552.3 814.1C559.5 805.4 569.2 792.0 574.1 783.6C579.0 775.2 580.5 768.1 581.7 764.0C582.9 759.9 581.9 760.1 581.5 759.0C581.1 757.9 581.1 757.3 579.5 757.5Z" fill="url(#shRM)"/>
<path d="M591.5 801.0C590.2 800.5 587.2 800.6 585.0 801.0C582.8 801.4 583.2 800.7 578.5 803.2C573.8 805.8 564.7 810.1 556.7 816.3C548.7 822.5 541.7 831.6 530.6 840.2C519.5 848.8 495.9 861.4 490.0 868.0C484.1 874.6 487.5 881.7 495.0 880.0C502.5 878.3 524.0 863.5 535.0 857.6C546.0 851.7 553.0 849.7 561.0 844.6C569.0 839.5 577.5 833.0 582.8 827.2C588.1 821.4 590.9 813.6 592.6 809.7C594.3 805.8 593.2 805.5 593.0 804.0C592.8 802.5 592.8 801.5 591.5 801.0Z" fill="url(#rg2)"/>
<path d="M591.5 801.0C590.2 800.5 587.2 800.6 585.0 801.0C582.8 801.4 583.2 800.7 578.5 803.2C573.8 805.8 564.7 810.1 556.7 816.3C548.7 822.5 541.7 831.6 530.6 840.2C519.5 848.8 495.9 861.4 490.0 868.0C484.1 874.6 487.5 881.7 495.0 880.0C502.5 878.3 524.0 863.5 535.0 857.6C546.0 851.7 553.0 849.7 561.0 844.6C569.0 839.5 577.5 833.0 582.8 827.2C588.1 821.4 590.9 813.6 592.6 809.7C594.3 805.8 593.2 805.5 593.0 804.0C592.8 802.5 592.8 801.5 591.5 801.0Z" fill="url(#shRL)"/>
<path d="M428.0 834.0C430.2 824.7 438.0 809.0 445.0 802.0C452.0 795.0 460.8 793.7 470.0 792.0C479.2 790.3 490.0 790.0 500.0 792.0C510.0 794.0 520.7 799.0 530.0 804.0C539.3 809.0 550.5 815.0 556.0 822.0C561.5 829.0 564.3 839.0 563.0 846.0C561.7 853.0 555.2 859.3 548.0 864.0C540.8 868.7 530.7 872.0 520.0 874.0C509.3 876.0 495.7 876.3 484.0 876.0C472.3 875.7 458.7 875.0 450.0 872.0C441.3 869.0 435.7 864.3 432.0 858.0C428.3 851.7 425.8 843.3 428.0 834.0Z" fill="url(#rg2)"/>
<path d="M367.8 856.3C368.0 852.1 368.0 847.0 371.0 843.0C374.0 839.0 379.9 834.8 385.6 832.6C391.3 830.4 398.6 829.8 405.0 830.0C411.4 830.2 417.2 831.3 424.0 834.0C430.8 836.7 439.7 841.3 446.0 846.0C452.3 850.7 455.3 857.0 462.0 862.0C468.7 867.0 483.4 870.5 486.0 876.0C488.6 881.5 483.9 890.5 477.5 894.9C471.1 899.3 459.2 902.0 447.8 902.3C436.4 902.5 420.7 900.1 409.3 896.4C397.9 892.7 386.2 884.7 379.6 880.0C373.1 875.3 372.0 872.0 370.0 868.0C368.0 864.0 367.6 860.5 367.8 856.3Z" fill="url(#gBL)"/>
<path d="M625.7 880.0C625.5 883.8 626.8 889.7 622.8 894.9C618.8 900.1 611.9 907.8 602.0 911.2C592.1 914.7 575.9 915.9 563.5 915.6C551.1 915.4 537.8 913.6 527.9 909.7C518.0 905.8 511.3 897.8 504.2 892.0C497.1 886.2 485.7 879.5 485.0 875.0C484.3 870.5 489.9 867.1 500.0 865.0C510.1 862.9 531.2 864.0 545.7 862.3C560.2 860.6 576.5 855.7 587.2 854.8C597.9 853.9 605.1 855.5 610.0 857.0C614.9 858.5 614.5 861.2 616.8 863.7C619.1 866.2 622.5 869.3 624.0 872.0C625.5 874.7 625.9 876.2 625.7 880.0Z" fill="url(#gBR)"/>
<path d="M463.0 861.0L413.5 835.0" stroke="#0a4a50" stroke-opacity=".16" stroke-width="2.2" stroke-linecap="round"/>
<path d="M465.0 861.0L415.7 835.0" stroke="#fff" stroke-opacity=".13" stroke-width="1.8" stroke-linecap="round"/>
<path d="M469.1 854.7L433.9 813.7" stroke="#0a4a50" stroke-opacity=".16" stroke-width="2.2" stroke-linecap="round"/>
<path d="M471.1 854.7L436.1 813.7" stroke="#fff" stroke-opacity=".13" stroke-width="1.8" stroke-linecap="round"/>
<path d="M474.9 851.6L453.5 803.4" stroke="#0a4a50" stroke-opacity=".16" stroke-width="2.2" stroke-linecap="round"/>
<path d="M476.9 851.6L455.7 803.4" stroke="#fff" stroke-opacity=".13" stroke-width="1.8" stroke-linecap="round"/>
<path d="M481.1 850.2L474.1 798.6" stroke="#0a4a50" stroke-opacity=".16" stroke-width="2.2" stroke-linecap="round"/>
<path d="M483.1 850.2L476.3 798.6" stroke="#fff" stroke-opacity=".13" stroke-width="1.8" stroke-linecap="round"/>
<path d="M495.4 852.6L522.2 806.7" stroke="#0a4a50" stroke-opacity=".16" stroke-width="2.2" stroke-linecap="round"/>
<path d="M497.4 852.6L524.4 806.7" stroke="#fff" stroke-opacity=".13" stroke-width="1.8" stroke-linecap="round"/>
<path d="M501.4 856.7L542.6 820.6" stroke="#0a4a50" stroke-opacity=".16" stroke-width="2.2" stroke-linecap="round"/>
<path d="M503.4 856.7L544.8 820.6" stroke="#fff" stroke-opacity=".13" stroke-width="1.8" stroke-linecap="round"/>
<path d="M505.4 861.7L555.9 837.3" stroke="#0a4a50" stroke-opacity=".16" stroke-width="2.2" stroke-linecap="round"/>
<path d="M507.4 861.7L558.1 837.3" stroke="#fff" stroke-opacity=".13" stroke-width="1.8" stroke-linecap="round"/>
<ellipse cx="494.5" cy="866.5" rx="41.5" ry="12" fill="#2a6cd8"/>
<ellipse cx="498" cy="872.5" rx="17" ry="5.5" fill="#1545d6"/>
<ellipse cx="474" cy="893" rx="19" ry="6.5" fill="#2360d8"/>
<ellipse cx="482" cy="896" rx="9" ry="3.5" fill="#1545d6"/>
<path d="M452 877 Q462 871 480 874 Q500 880 520 881 L540 880 L528 889 Q505 893 485 888 Q465 886 454 883Z" fill="#7adfd6"/>
</g>
<g id="triad">
<defs><linearGradient id="tz" x1="0" x2="1" y1="0" y2="0"><stop offset="0" stop-color="#2431b8"/><stop offset=".45" stop-color="#3d55f0"/><stop offset="1" stop-color="#1c259c"/></linearGradient>
<linearGradient id="ty" x1="0" x2="0" y1="0" y2="1"><stop offset="0" stop-color="#5ab552"/><stop offset=".5" stop-color="#43a03c"/><stop offset="1" stop-color="#2c7a28"/></linearGradient>
<radialGradient id="tr" cx=".4" cy=".4" r=".7"><stop offset="0" stop-color="#e8584a"/><stop offset="1" stop-color="#8a241c"/></radialGradient></defs>
<circle cx="794.1" cy="893.1" r="10.5" fill="#9c9c9c" fill-opacity=".82"/>
<circle cx="740.2" cy="941.1" r="9.6" fill="#8a8a8a" fill-opacity=".85"/>
<path d="M790 944.2 L765.5 941.4 L765.5 938.6 L751.2 943 L765.5 950.8 L765.5 947.2 L790 950Z" fill="url(#ty)"/>
<path d="M790.8 947 V917.4 H787.8 L794 903.6 L800.6 917.4 H797.4 V947Z" fill="url(#tz)"/>
<path d="M793.5 948.3 L807.7 940" stroke="#9c2e25" stroke-width="5.2" stroke-linecap="round"/>
<circle cx="807.7" cy="940" r="4.4" fill="url(#tr)"/>
<circle cx="793.6" cy="948.4" r="4.4" fill="url(#tr)"/>
<text x="794.1" y="897.2" text-anchor="middle" style="font-family:'Liberation Mono',monospace;font-weight:bold;font-size:15px;fill:#0a2cff">z</text>
<text x="740.6" y="946.5" text-anchor="middle" style="font-family:'Liberation Mono',monospace;font-weight:bold;font-size:15px;fill:#2f9a2c">y</text>
<text x="817.6" y="939.6" text-anchor="middle" style="font-family:'Liberation Mono',monospace;font-weight:bold;font-size:14px;fill:#ee2e1f">x</text>
</g>
</svg></body></html>
